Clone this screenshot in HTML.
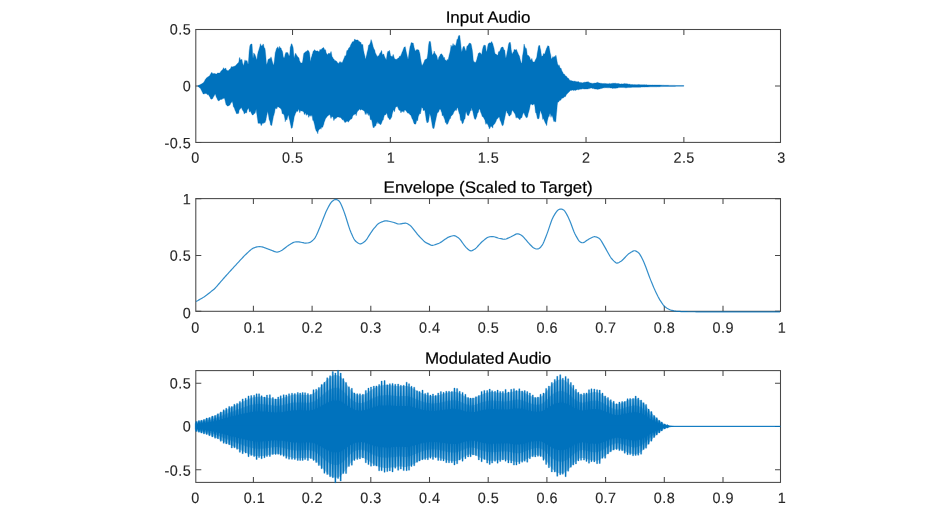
<!DOCTYPE html>
<html><head><meta charset="utf-8"><title>Audio plots</title>
<style>html,body{margin:0;padding:0;background:#fff}svg{display:block}</style></head>
<body><svg width="933" height="525" viewBox="0 0 933 525" font-family="'Liberation Sans', sans-serif" fill="#262626">
<rect width="933" height="525" fill="#fff"/>
<rect x="195.8" y="29.5" width="584.7" height="112.9" fill="none" stroke="#484848" stroke-width="1.05"/>
<path d="M292.53,142.4v-5.5M292.53,29.5v5.5M390.37,142.4v-5.5M390.37,29.5v5.5M488.20,142.4v-5.5M488.20,29.5v5.5M586.03,142.4v-5.5M586.03,29.5v5.5M683.87,142.4v-5.5M683.87,29.5v5.5M195.8,29.50h5.5M780.5,29.50h-5.5M195.8,85.95h5.5M780.5,85.95h-5.5M195.8,142.40h5.5M780.5,142.40h-5.5" stroke="#484848" stroke-width="1.05" fill="none"/>
<g font-size="15.0" letter-spacing="0.5" stroke="#262626" stroke-width="0.12">
<text transform="translate(195.54,162.7) rotate(0.03) scale(0.96,1)" text-anchor="middle">0</text>
<text transform="translate(292.77,162.7) rotate(0.03) scale(0.96,1)" text-anchor="middle">0.5</text>
<text transform="translate(391.11,162.7) rotate(0.03) scale(0.96,1)" text-anchor="middle">1</text>
<text transform="translate(488.44,162.7) rotate(0.03) scale(0.96,1)" text-anchor="middle">1.5</text>
<text transform="translate(586.27,162.7) rotate(0.03) scale(0.96,1)" text-anchor="middle">2</text>
<text transform="translate(684.11,162.7) rotate(0.03) scale(0.96,1)" text-anchor="middle">2.5</text>
<text transform="translate(781.54,162.7) rotate(0.03) scale(0.96,1)" text-anchor="middle">3</text>
<text transform="translate(191.23,34.50) rotate(0.03) scale(0.96,1)" text-anchor="end">0.5</text>
<text transform="translate(191.23,91.30) rotate(0.03) scale(0.96,1)" text-anchor="end">0</text>
<text transform="translate(191.23,148.20) rotate(0.03) scale(0.96,1)" text-anchor="end">-0.5</text>
</g>
<text transform="translate(488.1,22.8) rotate(0.03) scale(1.042,1)" text-anchor="middle" font-size="16.3" fill="#000" stroke="#000" stroke-width="0.2">Input Audio</text>
<rect x="195.8" y="198.6" width="584.7" height="112.70000000000002" fill="none" stroke="#484848" stroke-width="1.05"/>
<path d="M253.40,311.3v-5.5M253.40,198.6v5.5M312.10,311.3v-5.5M312.10,198.6v5.5M370.80,311.3v-5.5M370.80,198.6v5.5M429.50,311.3v-5.5M429.50,198.6v5.5M488.20,311.3v-5.5M488.20,198.6v5.5M546.90,311.3v-5.5M546.90,198.6v5.5M605.60,311.3v-5.5M605.60,198.6v5.5M664.30,311.3v-5.5M664.30,198.6v5.5M723.00,311.3v-5.5M723.00,198.6v5.5M195.8,198.60h5.5M780.5,198.60h-5.5M195.8,255.40h5.5M780.5,255.40h-5.5M195.8,311.30h5.5M780.5,311.30h-5.5" stroke="#484848" stroke-width="1.05" fill="none"/>
<g font-size="15.0" letter-spacing="0.5" stroke="#262626" stroke-width="0.12">
<text transform="translate(195.54,332.8) rotate(0.03) scale(0.96,1)" text-anchor="middle">0</text>
<text transform="translate(254.54,332.8) rotate(0.03) scale(0.96,1)" text-anchor="middle">0.1</text>
<text transform="translate(312.34,332.8) rotate(0.03) scale(0.96,1)" text-anchor="middle">0.2</text>
<text transform="translate(371.04,332.8) rotate(0.03) scale(0.96,1)" text-anchor="middle">0.3</text>
<text transform="translate(429.74,332.8) rotate(0.03) scale(0.96,1)" text-anchor="middle">0.4</text>
<text transform="translate(488.44,332.8) rotate(0.03) scale(0.96,1)" text-anchor="middle">0.5</text>
<text transform="translate(547.14,332.8) rotate(0.03) scale(0.96,1)" text-anchor="middle">0.6</text>
<text transform="translate(605.84,332.8) rotate(0.03) scale(0.96,1)" text-anchor="middle">0.7</text>
<text transform="translate(664.54,332.8) rotate(0.03) scale(0.96,1)" text-anchor="middle">0.8</text>
<text transform="translate(723.24,332.8) rotate(0.03) scale(0.96,1)" text-anchor="middle">0.9</text>
<text transform="translate(782.04,332.8) rotate(0.03) scale(0.96,1)" text-anchor="middle">1</text>
<text transform="translate(191.23,204.30) rotate(0.03) scale(0.96,1)" text-anchor="end">1</text>
<text transform="translate(191.23,260.70) rotate(0.03) scale(0.96,1)" text-anchor="end">0.5</text>
<text transform="translate(191.23,318.30) rotate(0.03) scale(0.96,1)" text-anchor="end">0</text>
</g>
<text transform="translate(488.1,192.8) rotate(0.03) scale(1.042,1)" text-anchor="middle" font-size="16.3" fill="#000" stroke="#000" stroke-width="0.2">Envelope (Scaled to Target)</text>
<rect x="195.8" y="370.6" width="584.7" height="111.79999999999995" fill="none" stroke="#484848" stroke-width="1.05"/>
<path d="M253.40,482.4v-5.5M253.40,370.6v5.5M312.10,482.4v-5.5M312.10,370.6v5.5M370.80,482.4v-5.5M370.80,370.6v5.5M429.50,482.4v-5.5M429.50,370.6v5.5M488.20,482.4v-5.5M488.20,370.6v5.5M546.90,482.4v-5.5M546.90,370.6v5.5M605.60,482.4v-5.5M605.60,370.6v5.5M664.30,482.4v-5.5M664.30,370.6v5.5M723.00,482.4v-5.5M723.00,370.6v5.5M195.8,383.30h5.5M780.5,383.30h-5.5M195.8,426.40h5.5M780.5,426.40h-5.5M195.8,469.80h5.5M780.5,469.80h-5.5" stroke="#484848" stroke-width="1.05" fill="none"/>
<g font-size="15.0" letter-spacing="0.5" stroke="#262626" stroke-width="0.12">
<text transform="translate(195.54,503.0) rotate(0.03) scale(0.96,1)" text-anchor="middle">0</text>
<text transform="translate(254.54,503.0) rotate(0.03) scale(0.96,1)" text-anchor="middle">0.1</text>
<text transform="translate(312.34,503.0) rotate(0.03) scale(0.96,1)" text-anchor="middle">0.2</text>
<text transform="translate(371.04,503.0) rotate(0.03) scale(0.96,1)" text-anchor="middle">0.3</text>
<text transform="translate(429.74,503.0) rotate(0.03) scale(0.96,1)" text-anchor="middle">0.4</text>
<text transform="translate(488.44,503.0) rotate(0.03) scale(0.96,1)" text-anchor="middle">0.5</text>
<text transform="translate(547.14,503.0) rotate(0.03) scale(0.96,1)" text-anchor="middle">0.6</text>
<text transform="translate(605.84,503.0) rotate(0.03) scale(0.96,1)" text-anchor="middle">0.7</text>
<text transform="translate(664.54,503.0) rotate(0.03) scale(0.96,1)" text-anchor="middle">0.8</text>
<text transform="translate(723.24,503.0) rotate(0.03) scale(0.96,1)" text-anchor="middle">0.9</text>
<text transform="translate(782.04,503.0) rotate(0.03) scale(0.96,1)" text-anchor="middle">1</text>
<text transform="translate(191.23,388.60) rotate(0.03) scale(0.96,1)" text-anchor="end">0.5</text>
<text transform="translate(191.23,431.50) rotate(0.03) scale(0.96,1)" text-anchor="end">0</text>
<text transform="translate(191.23,475.70) rotate(0.03) scale(0.96,1)" text-anchor="end">-0.5</text>
</g>
<text transform="translate(488.1,363.8) rotate(0.03) scale(1.042,1)" text-anchor="middle" font-size="16.3" fill="#000" stroke="#000" stroke-width="0.2">Modulated Audio</text>
<polygon points="198.0,85.7 198.2,85.5 198.5,85.4 198.8,85.3 199.0,85.2 199.2,85.0 199.5,84.9 199.8,84.7 200.0,84.5 200.2,84.4 200.5,84.4 200.8,84.3 201.0,84.1 201.2,84.0 201.5,83.9 201.8,83.8 202.0,83.6 202.2,83.5 202.5,83.3 202.8,83.1 203.0,83.0 203.2,82.8 203.5,82.5 203.8,82.3 204.0,81.9 204.2,81.5 204.5,81.0 204.8,80.6 205.0,80.1 205.2,79.6 205.5,79.2 205.8,78.9 206.0,78.5 206.2,78.2 206.5,78.0 206.8,77.8 207.0,77.7 207.2,77.5 207.5,77.1 207.8,76.9 208.0,76.6 208.2,76.6 208.5,76.7 208.8,76.5 209.0,76.2 209.2,76.0 209.5,75.8 209.8,75.5 210.0,75.1 210.2,74.7 210.5,74.1 210.8,73.8 211.0,73.3 211.2,72.9 211.5,72.6 211.8,72.4 212.0,72.6 212.2,72.8 212.5,73.4 212.8,73.6 213.0,73.7 213.2,73.7 213.5,73.6 213.8,73.6 214.0,73.6 214.2,73.6 214.5,73.6 214.8,73.6 215.0,73.5 215.2,73.5 215.5,73.9 215.8,74.0 216.0,74.0 216.2,74.0 216.5,74.0 216.8,73.9 217.0,73.7 217.2,73.3 217.5,72.9 217.8,73.0 218.0,73.1 218.2,73.1 218.5,73.1 218.8,73.1 219.0,73.1 219.2,73.1 219.5,73.0 219.8,73.0 220.0,72.7 220.2,72.4 220.5,71.8 220.8,71.5 221.0,71.2 221.2,70.8 221.5,70.7 221.8,70.4 222.0,70.0 222.2,69.8 222.5,69.8 222.8,69.6 223.0,69.1 223.2,68.6 223.5,67.7 223.8,68.1 224.0,68.5 224.2,69.0 224.5,69.1 224.8,69.1 225.0,68.7 225.2,68.3 225.5,67.9 225.8,68.2 226.0,68.9 226.2,69.6 226.5,70.1 226.8,70.2 227.0,70.3 227.2,70.3 227.5,70.8 227.8,70.8 228.0,70.8 228.2,70.7 228.5,70.4 228.8,70.1 229.0,69.8 229.2,69.6 229.5,69.5 229.8,69.3 230.0,69.1 230.2,68.8 230.5,68.6 230.8,68.1 231.0,67.4 231.2,66.7 231.5,66.6 231.8,67.0 232.0,67.2 232.2,67.1 232.5,66.8 232.8,66.7 233.0,66.6 233.2,66.6 233.5,66.6 233.8,66.5 234.0,66.4 234.2,66.4 234.5,66.1 234.8,66.1 235.0,66.0 235.2,65.9 235.5,65.6 235.8,65.5 236.0,65.3 236.2,65.0 236.5,64.5 236.8,64.2 237.0,63.9 237.2,63.7 237.5,63.6 237.8,63.3 238.0,63.0 238.2,62.7 238.5,62.4 238.8,62.0 239.0,60.8 239.2,59.3 239.5,57.7 239.8,57.5 240.0,58.3 240.2,59.1 240.5,59.9 240.8,60.0 241.0,60.0 241.2,60.0 241.5,59.5 241.8,59.2 242.0,59.6 242.2,61.0 242.5,62.7 242.8,63.6 243.0,64.4 243.2,65.2 243.5,65.2 243.8,64.5 244.0,63.8 244.2,62.9 244.5,61.4 244.8,60.4 245.0,59.8 245.2,60.3 245.5,60.8 245.8,61.2 246.0,61.3 246.2,61.1 246.5,60.7 246.8,60.4 247.0,60.4 247.2,61.3 247.5,62.4 247.8,63.4 248.0,64.0 248.2,64.2 248.5,60.6 248.8,56.9 249.0,53.3 249.2,50.8 249.5,48.7 249.8,46.2 250.0,45.4 250.2,45.2 250.5,44.5 250.8,44.3 251.0,44.0 251.2,44.0 251.5,44.0 251.8,44.0 252.0,44.0 252.2,46.6 252.5,51.5 252.8,55.9 253.0,58.6 253.2,57.3 253.5,55.4 253.8,52.9 254.0,53.1 254.2,53.8 254.5,54.2 254.8,54.2 255.0,54.4 255.2,55.2 255.5,56.0 255.8,56.8 256.0,57.5 256.2,58.2 256.5,58.9 256.8,59.6 257.0,59.2 257.2,57.1 257.5,54.7 257.8,53.6 258.0,52.6 258.2,51.6 258.5,51.1 258.8,50.1 259.0,49.3 259.2,48.6 259.5,47.5 259.8,46.7 260.0,45.5 260.2,44.3 260.5,43.7 260.8,44.9 261.0,46.0 261.2,46.0 261.5,45.8 261.8,45.7 262.0,45.6 262.2,45.5 262.5,45.2 262.8,44.7 263.0,44.3 263.2,43.9 263.5,44.6 263.8,45.8 264.0,47.0 264.2,47.9 264.5,47.8 264.8,48.3 265.0,49.0 265.2,50.1 265.5,52.9 265.8,55.8 266.0,58.5 266.2,61.1 266.5,64.4 266.8,64.1 267.0,63.7 267.2,63.1 267.5,62.3 267.8,61.0 268.0,59.4 268.2,59.3 268.5,59.3 268.8,59.2 269.0,58.7 269.2,58.7 269.5,58.7 269.8,58.7 270.0,58.7 270.2,58.6 270.5,58.1 270.8,57.5 271.0,56.8 271.2,57.5 271.5,58.1 271.8,59.2 272.0,60.2 272.2,61.1 272.5,62.1 272.8,63.0 273.0,63.9 273.2,65.0 273.5,64.7 273.8,64.0 274.0,63.2 274.2,61.9 274.5,59.3 274.8,57.1 275.0,55.0 275.2,52.7 275.5,51.9 275.8,51.0 276.0,50.2 276.2,49.4 276.5,48.5 276.8,48.3 277.0,48.3 277.2,47.9 277.5,47.3 277.8,46.8 278.0,46.9 278.2,47.6 278.5,48.3 278.8,48.9 279.0,48.8 279.2,47.9 279.5,46.5 279.8,46.6 280.0,47.2 280.2,47.9 280.5,47.9 280.8,47.9 281.0,47.9 281.2,48.4 281.5,49.7 281.8,50.1 282.0,50.5 282.2,50.9 282.5,51.5 282.8,53.1 283.0,54.7 283.2,56.2 283.5,57.2 283.8,57.6 284.0,58.0 284.2,58.0 284.5,56.9 284.8,56.2 285.0,55.1 285.2,53.9 285.5,53.5 285.8,52.6 286.0,52.6 286.2,52.6 286.5,52.6 286.8,52.6 287.0,52.7 287.2,52.8 287.5,52.6 287.8,52.5 288.0,52.9 288.2,53.8 288.5,54.5 288.8,55.2 289.0,55.7 289.2,55.7 289.5,55.7 289.8,53.8 290.0,50.7 290.2,47.6 290.5,46.5 290.8,45.9 291.0,45.0 291.2,44.3 291.5,43.8 291.8,43.8 292.0,44.3 292.2,44.8 292.5,45.8 292.8,46.6 293.0,47.1 293.2,48.2 293.5,51.6 293.8,54.6 294.0,57.8 294.2,57.7 294.5,56.5 294.8,55.6 295.0,54.8 295.2,54.0 295.5,53.4 295.8,53.2 296.0,53.8 296.2,54.3 296.5,54.9 296.8,55.2 297.0,55.7 297.2,56.2 297.5,56.3 297.8,56.8 298.0,57.3 298.2,57.6 298.5,57.6 298.8,57.6 299.0,58.1 299.2,59.1 299.5,60.7 299.8,61.1 300.0,61.6 300.2,62.0 300.5,62.5 300.8,62.9 301.0,63.2 301.2,63.1 301.5,63.0 301.8,62.9 302.0,62.9 302.2,62.8 302.5,61.8 302.8,60.3 303.0,58.8 303.2,57.2 303.5,55.1 303.8,53.6 304.0,53.1 304.2,52.8 304.5,52.9 304.8,52.8 305.0,52.5 305.2,52.0 305.5,52.0 305.8,51.6 306.0,51.6 306.2,51.5 306.5,51.3 306.8,51.3 307.0,51.1 307.2,50.9 307.5,50.2 307.8,50.3 308.0,50.4 308.2,50.6 308.5,50.7 308.8,51.0 309.0,51.6 309.2,52.2 309.5,52.7 309.8,55.0 310.0,57.3 310.2,59.7 310.5,61.6 310.8,60.0 311.0,58.5 311.2,57.4 311.5,56.8 311.8,56.3 312.0,55.3 312.2,54.1 312.5,53.9 312.8,52.7 313.0,51.5 313.2,51.2 313.5,51.0 313.8,51.0 314.0,50.6 314.2,50.3 314.5,49.7 314.8,49.8 315.0,50.2 315.2,50.5 315.5,50.8 315.8,50.8 316.0,50.9 316.2,50.9 316.5,51.1 316.8,51.1 317.0,51.1 317.2,51.0 317.5,50.8 317.8,50.9 318.0,51.2 318.2,51.4 318.5,51.6 318.8,51.7 319.0,51.6 319.2,51.4 319.5,50.8 319.8,50.0 320.0,49.2 320.2,49.4 320.5,49.7 320.8,50.0 321.0,49.9 321.2,49.6 321.5,49.1 321.8,48.8 322.0,48.6 322.2,48.3 322.5,48.2 322.8,48.0 323.0,47.8 323.2,47.7 323.5,47.6 323.8,47.8 324.0,48.1 324.2,48.8 324.5,49.7 324.8,49.7 325.0,49.8 325.2,49.7 325.5,49.8 325.8,50.8 326.0,51.9 326.2,53.0 326.5,53.2 326.8,53.8 327.0,54.3 327.2,54.6 327.5,54.5 327.8,54.4 328.0,54.2 328.2,53.8 328.5,53.4 328.8,53.0 329.0,53.0 329.2,53.4 329.5,53.4 329.8,53.5 330.0,53.5 330.2,53.5 330.5,52.8 330.8,52.0 331.0,51.5 331.2,51.8 331.5,53.6 331.8,55.0 332.0,56.4 332.2,56.9 332.5,56.9 332.8,57.6 333.0,58.2 333.2,58.5 333.5,59.0 333.8,58.9 334.0,59.1 334.2,59.6 334.5,60.2 334.8,60.5 335.0,60.6 335.2,60.6 335.5,60.7 335.8,60.7 336.0,61.0 336.2,61.2 336.5,61.1 336.8,61.5 337.0,62.0 337.2,62.4 337.5,62.5 337.8,62.9 338.0,63.3 338.2,63.4 338.5,63.3 338.8,63.2 339.0,63.1 339.2,62.6 339.5,62.2 339.8,61.8 340.0,61.4 340.2,61.8 340.5,62.0 340.8,62.4 341.0,62.4 341.2,62.4 341.5,62.4 341.8,62.4 342.0,62.5 342.2,62.4 342.5,62.1 342.8,61.5 343.0,60.8 343.2,60.2 343.5,59.5 343.8,58.9 344.0,58.2 344.2,57.9 344.5,56.9 344.8,56.2 345.0,55.6 345.2,55.7 345.5,56.0 345.8,56.1 346.0,55.5 346.2,54.4 346.5,52.3 346.8,50.9 347.0,50.2 347.2,50.2 347.5,50.5 347.8,50.5 348.0,50.0 348.2,49.3 348.5,48.6 348.8,48.1 349.0,47.7 349.2,47.4 349.5,47.4 349.8,47.2 350.0,46.8 350.2,46.4 350.5,45.2 350.8,44.8 351.0,44.3 351.2,43.8 351.5,43.5 351.8,43.2 352.0,42.6 352.2,41.9 352.5,41.8 352.8,41.7 353.0,41.6 353.2,41.5 353.5,41.5 353.8,41.4 354.0,40.9 354.2,40.4 354.5,39.2 354.8,39.1 355.0,39.3 355.2,39.6 355.5,39.9 355.8,39.9 356.0,39.9 356.2,40.1 356.5,40.1 356.8,40.1 357.0,40.1 357.2,40.0 357.5,39.9 357.8,39.9 358.0,40.1 358.2,40.3 358.5,41.2 358.8,41.2 359.0,41.2 359.2,41.2 359.5,41.5 359.8,41.9 360.0,42.2 360.2,42.3 360.5,42.0 360.8,42.3 361.0,43.0 361.2,43.8 361.5,44.0 361.8,44.5 362.0,45.0 362.2,45.1 362.5,44.5 362.8,44.3 363.0,46.1 363.2,48.1 363.5,50.2 363.8,51.3 364.0,52.4 364.2,53.4 364.5,54.4 364.8,55.5 365.0,56.8 365.2,58.0 365.5,58.4 365.8,59.0 366.0,57.6 366.2,56.3 366.5,55.6 366.8,54.3 367.0,52.9 367.2,52.0 367.5,51.0 367.8,50.1 368.0,49.0 368.2,47.6 368.5,45.5 368.8,45.1 369.0,45.2 369.2,45.0 369.5,44.5 369.8,44.1 370.0,43.6 370.2,43.1 370.5,42.2 370.8,40.9 371.0,39.6 371.2,39.8 371.5,40.7 371.8,41.5 372.0,41.9 372.2,43.0 372.5,44.1 372.8,45.1 373.0,46.1 373.2,47.1 373.5,47.6 373.8,48.5 374.0,48.8 374.2,49.1 374.5,49.9 374.8,50.1 375.0,51.3 375.2,52.4 375.5,53.1 375.8,53.7 376.0,54.1 376.2,54.5 376.5,55.2 376.8,55.6 377.0,56.0 377.2,56.4 377.5,56.4 377.8,56.4 378.0,55.9 378.2,55.6 378.5,56.0 378.8,55.9 379.0,55.5 379.2,55.0 379.5,54.0 379.8,53.5 380.0,52.9 380.2,52.8 380.5,52.8 380.8,52.6 381.0,51.6 381.2,50.7 381.5,50.5 381.8,51.3 382.0,52.6 382.2,54.0 382.5,54.5 382.8,54.8 383.0,54.5 383.2,54.2 383.5,54.0 383.8,54.0 384.0,54.8 384.2,55.5 384.5,56.2 384.8,57.0 385.0,57.5 385.2,58.0 385.5,58.5 385.8,59.0 386.0,59.5 386.2,60.0 386.5,58.3 386.8,56.6 387.0,54.9 387.2,53.2 387.5,52.4 387.8,51.7 388.0,51.1 388.2,51.6 388.5,51.5 388.8,51.2 389.0,50.8 389.2,50.5 389.5,50.5 389.8,51.5 390.0,52.5 390.2,53.4 390.5,55.2 390.8,55.9 391.0,56.3 391.2,56.3 391.5,56.3 391.8,56.4 392.0,56.6 392.2,56.8 392.5,56.3 392.8,55.6 393.0,54.8 393.2,54.4 393.5,55.1 393.8,56.2 394.0,57.2 394.2,57.6 394.5,58.4 394.8,58.7 395.0,59.1 395.2,59.3 395.5,59.3 395.8,59.2 396.0,59.0 396.2,58.9 396.5,59.5 396.8,59.5 397.0,59.3 397.2,59.2 397.5,58.5 397.8,58.4 398.0,58.2 398.2,58.0 398.5,57.9 398.8,57.7 399.0,57.5 399.2,57.0 399.5,56.4 399.8,55.9 400.0,56.1 400.2,56.4 400.5,55.9 400.8,55.6 401.0,55.0 401.2,54.4 401.5,53.9 401.8,53.1 402.0,52.4 402.2,51.7 402.5,51.4 402.8,50.8 403.0,50.1 403.2,49.4 403.5,48.8 403.8,48.1 404.0,47.4 404.2,47.1 404.5,47.1 404.8,46.9 405.0,46.7 405.2,46.7 405.5,48.1 405.8,49.4 406.0,50.5 406.2,51.6 406.5,52.8 406.8,53.9 407.0,55.0 407.2,56.2 407.5,57.1 407.8,58.3 408.0,59.5 408.2,58.6 408.5,56.4 408.8,54.7 409.0,53.0 409.2,51.3 409.5,49.8 409.8,48.1 410.0,46.8 410.2,46.1 410.5,45.4 410.8,44.2 411.0,43.2 411.2,42.8 411.5,42.4 411.8,42.7 412.0,43.0 412.2,43.0 412.5,43.0 412.8,43.0 413.0,43.0 413.2,43.0 413.5,44.4 413.8,45.6 414.0,46.8 414.2,47.7 414.5,48.6 414.8,49.5 415.0,50.4 415.2,51.3 415.5,50.7 415.8,50.5 416.0,50.4 416.2,50.1 416.5,49.8 416.8,49.5 417.0,49.5 417.2,49.5 417.5,49.7 417.8,49.7 418.0,49.7 418.2,49.7 418.5,50.0 418.8,50.0 419.0,50.4 419.2,51.6 419.5,52.2 419.8,53.2 420.0,54.5 420.2,56.1 420.5,58.2 420.8,59.6 421.0,60.9 421.2,62.1 421.5,63.4 421.8,64.6 422.0,65.8 422.2,65.3 422.5,65.0 422.8,64.6 423.0,64.2 423.2,63.7 423.5,62.9 423.8,62.4 424.0,61.9 424.2,61.5 424.5,60.6 424.8,59.9 425.0,59.6 425.2,59.4 425.5,59.4 425.8,59.4 426.0,59.3 426.2,59.1 426.5,58.9 426.8,58.7 427.0,58.6 427.2,57.4 427.5,55.7 427.8,53.7 428.0,51.6 428.2,48.9 428.5,45.6 428.8,43.8 429.0,42.7 429.2,41.4 429.5,41.5 429.8,41.5 430.0,41.4 430.2,41.3 430.5,42.1 430.8,43.6 431.0,45.3 431.2,47.1 431.5,49.5 431.8,51.3 432.0,52.9 432.2,54.5 432.5,54.9 432.8,54.5 433.0,54.1 433.2,53.7 433.5,53.7 433.8,52.9 434.0,51.9 434.2,51.0 434.5,51.9 434.8,52.9 435.0,53.4 435.2,53.7 435.5,53.7 435.8,54.2 436.0,54.7 436.2,55.1 436.5,55.3 436.8,55.8 437.0,56.5 437.2,57.4 437.5,58.9 437.8,59.7 438.0,60.2 438.2,59.4 438.5,58.4 438.8,57.2 439.0,56.9 439.2,56.8 439.5,56.1 439.8,55.9 440.0,55.3 440.2,54.6 440.5,54.4 440.8,54.0 441.0,54.0 441.2,53.9 441.5,53.8 441.8,53.9 442.0,54.3 442.2,54.9 442.5,55.0 442.8,55.5 443.0,56.0 443.2,56.5 443.5,57.3 443.8,57.9 444.0,57.7 444.2,57.2 444.5,57.8 444.8,59.0 445.0,60.0 445.2,60.1 445.5,60.1 445.8,60.3 446.0,60.4 446.2,60.6 446.5,61.0 446.8,60.6 447.0,59.9 447.2,59.2 447.5,59.7 447.8,60.3 448.0,59.9 448.2,59.6 448.5,58.1 448.8,57.0 449.0,55.9 449.2,54.8 449.5,53.9 449.8,52.8 450.0,51.9 450.2,50.9 450.5,49.3 450.8,47.2 451.0,45.1 451.2,45.7 451.5,46.5 451.8,46.8 452.0,46.6 452.2,46.3 452.5,45.7 452.8,44.6 453.0,43.5 453.2,44.0 453.5,44.7 453.8,45.7 454.0,45.7 454.2,45.5 454.5,45.0 454.8,44.7 455.0,44.8 455.2,45.6 455.5,45.9 455.8,45.3 456.0,44.4 456.2,43.2 456.5,42.3 456.8,40.5 457.0,39.3 457.2,39.4 457.5,39.2 457.8,38.9 458.0,38.0 458.2,37.1 458.5,35.9 458.8,35.6 459.0,35.6 459.2,35.6 459.5,35.6 459.8,35.6 460.0,37.5 460.2,39.6 460.5,41.8 460.8,43.9 461.0,46.3 461.2,48.6 461.5,50.6 461.8,52.1 462.0,51.3 462.2,50.5 462.5,48.9 462.8,48.1 463.0,47.3 463.2,46.7 463.5,46.6 463.8,46.5 464.0,46.4 464.2,46.2 464.5,47.2 464.8,47.9 465.0,48.5 465.2,49.2 465.5,50.2 465.8,50.7 466.0,51.1 466.2,50.5 466.5,48.6 466.8,47.1 467.0,45.9 467.2,46.0 467.5,46.2 467.8,45.6 468.0,45.3 468.2,45.0 468.5,44.5 468.8,44.1 469.0,43.6 469.2,43.4 469.5,42.9 469.8,43.1 470.0,43.3 470.2,43.6 470.5,43.6 470.8,43.6 471.0,43.6 471.2,44.4 471.5,45.7 471.8,47.4 472.0,48.5 472.2,49.6 472.5,51.6 472.8,54.0 473.0,56.7 473.2,59.4 473.5,60.9 473.8,61.4 474.0,61.5 474.2,61.7 474.5,62.2 474.8,62.3 475.0,62.3 475.2,62.3 475.5,62.3 475.8,62.4 476.0,62.1 476.2,61.1 476.5,60.2 476.8,59.4 477.0,58.5 477.2,57.6 477.5,56.6 477.8,55.9 478.0,54.7 478.2,53.5 478.5,53.3 478.8,53.2 479.0,53.0 479.2,52.8 479.5,52.8 479.8,52.7 480.0,52.7 480.2,52.7 480.5,53.0 480.8,53.5 481.0,53.8 481.2,54.0 481.5,54.4 481.8,53.9 482.0,52.4 482.2,51.1 482.5,49.2 482.8,48.3 483.0,47.4 483.2,46.5 483.5,46.2 483.8,45.2 484.0,45.2 484.2,45.2 484.5,45.2 484.8,45.2 485.0,45.1 485.2,45.4 485.5,45.6 485.8,47.5 486.0,49.4 486.2,50.9 486.5,51.5 486.8,51.2 487.0,50.0 487.2,48.9 487.5,47.2 487.8,46.1 488.0,44.9 488.2,43.8 488.5,43.7 488.8,43.4 489.0,43.0 489.2,43.0 489.5,42.7 489.8,42.9 490.0,43.0 490.2,43.0 490.5,43.0 490.8,43.1 491.0,42.6 491.2,42.0 491.5,41.7 491.8,41.6 492.0,42.2 492.2,42.8 492.5,43.4 492.8,43.5 493.0,44.4 493.2,45.5 493.5,46.5 493.8,47.4 494.0,48.2 494.2,49.2 494.5,51.2 494.8,52.4 495.0,53.4 495.2,53.9 495.5,53.9 495.8,54.0 496.0,54.1 496.2,54.3 496.5,54.6 496.8,54.8 497.0,54.9 497.2,55.1 497.5,55.3 497.8,54.9 498.0,54.3 498.2,53.3 498.5,51.7 498.8,51.7 499.0,51.6 499.2,51.5 499.5,51.5 499.8,51.1 500.0,50.5 500.2,50.0 500.5,49.2 500.8,48.4 501.0,47.6 501.2,47.5 501.5,47.6 501.8,47.5 502.0,47.1 502.2,47.1 502.5,47.1 502.8,47.1 503.0,47.1 503.2,47.5 503.5,48.3 503.8,49.2 504.0,49.9 504.2,49.9 504.5,50.0 504.8,50.2 505.0,52.2 505.2,54.1 505.5,56.5 505.8,57.7 506.0,58.1 506.2,56.8 506.5,55.5 506.8,54.2 507.0,52.9 507.2,51.5 507.5,50.4 507.8,49.0 508.0,47.6 508.2,46.3 508.5,44.6 508.8,43.7 509.0,42.7 509.2,42.7 509.5,42.7 509.8,42.7 510.0,42.0 510.2,42.5 510.5,43.5 510.8,45.0 511.0,47.2 511.2,49.5 511.5,51.0 511.8,52.4 512.0,53.7 512.2,54.0 512.5,53.4 512.8,53.0 513.0,52.5 513.2,52.1 513.5,51.9 513.8,51.2 514.0,50.0 514.2,49.3 514.5,49.6 514.8,50.0 515.0,50.0 515.2,50.0 515.5,49.9 515.8,49.6 516.0,49.4 516.2,49.3 516.5,49.7 516.8,50.3 517.0,50.9 517.2,51.6 517.5,52.1 517.8,52.7 518.0,53.2 518.2,53.7 518.5,54.5 518.8,54.9 519.0,55.2 519.2,55.8 519.5,56.2 519.8,57.4 520.0,58.4 520.2,59.3 520.5,60.6 520.8,61.3 521.0,62.0 521.2,62.7 521.5,62.9 521.8,63.3 522.0,62.1 522.2,59.0 522.5,55.7 522.8,54.5 523.0,53.3 523.2,52.1 523.5,50.1 523.8,46.5 524.0,44.1 524.2,44.2 524.5,45.6 524.8,46.6 525.0,46.6 525.2,47.5 525.5,47.9 525.8,48.4 526.0,48.4 526.2,48.3 526.5,49.1 526.8,50.9 527.0,52.8 527.2,54.5 527.5,55.0 527.8,55.3 528.0,55.6 528.2,55.6 528.5,55.6 528.8,56.0 529.0,56.2 529.2,56.3 529.5,56.9 529.8,57.3 530.0,58.1 530.2,58.8 530.5,59.9 530.8,59.9 531.0,59.9 531.2,59.7 531.5,58.9 531.8,58.4 532.0,58.7 532.2,59.7 532.5,61.1 532.8,61.5 533.0,61.8 533.2,62.0 533.5,62.0 533.8,61.9 534.0,62.0 534.2,62.0 534.5,62.1 534.8,61.3 535.0,60.7 535.2,60.3 535.5,59.6 535.8,59.2 536.0,58.8 536.2,58.3 536.5,58.1 536.8,56.7 537.0,55.2 537.2,53.6 537.5,51.9 537.8,50.6 538.0,49.2 538.2,47.6 538.5,46.6 538.8,45.6 539.0,45.6 539.2,45.6 539.5,45.6 539.8,45.5 540.0,46.8 540.2,48.2 540.5,49.0 540.8,50.6 541.0,52.2 541.2,53.8 541.5,55.5 541.8,56.6 542.0,56.3 542.2,56.0 542.5,56.0 542.8,55.9 543.0,55.2 543.2,54.4 543.5,53.5 543.8,53.7 544.0,53.9 544.2,53.9 544.5,53.9 544.8,53.5 545.0,53.0 545.2,52.2 545.5,51.3 545.8,50.4 546.0,49.8 546.2,49.5 546.5,48.2 546.8,48.0 547.0,47.5 547.2,46.9 547.5,46.2 547.8,45.7 548.0,45.8 548.2,46.0 548.5,46.0 548.8,46.0 549.0,46.3 549.2,47.6 549.5,49.0 549.8,50.4 550.0,51.8 550.2,53.1 550.5,54.0 550.8,54.9 551.0,56.8 551.2,58.4 551.5,58.7 551.8,58.5 552.0,58.3 552.2,58.1 552.5,57.5 552.8,56.8 553.0,56.5 553.2,56.9 553.5,57.2 553.8,57.2 554.0,57.2 554.2,57.1 554.5,56.5 554.8,56.5 555.0,56.5 555.2,56.5 555.5,55.9 555.8,55.3 556.0,55.3 556.2,56.2 556.5,58.1 556.8,59.6 557.0,61.0 557.2,61.9 557.5,63.4 557.8,64.2 558.0,65.0 558.2,65.7 558.5,65.4 558.8,65.2 559.0,64.8 559.2,65.3 559.5,66.1 559.8,67.1 560.0,67.7 560.2,67.9 560.5,67.9 560.8,68.2 561.0,68.4 561.2,68.6 561.5,69.8 561.8,70.5 562.0,71.1 562.2,71.6 562.5,71.8 562.8,72.3 563.0,72.8 563.2,73.4 563.5,73.9 563.8,73.9 564.0,73.9 564.2,73.9 564.5,74.3 564.8,74.9 565.0,75.5 565.2,75.8 565.5,75.9 565.8,75.8 566.0,75.8 566.2,75.9 566.5,76.4 566.8,76.8 567.0,77.3 567.2,77.5 567.5,77.8 567.8,78.0 568.0,78.2 568.2,78.3 568.5,78.3 568.8,78.7 569.0,79.2 569.2,79.6 569.5,80.1 569.8,80.2 570.0,80.3 570.2,80.4 570.5,80.4 570.8,80.4 571.0,80.5 571.2,80.5 571.5,80.7 571.8,80.8 572.0,80.8 572.2,80.9 572.5,81.0 572.8,81.0 573.0,81.1 573.2,81.2 573.5,81.2 573.8,81.3 574.0,81.3 574.2,81.3 574.5,81.2 574.8,81.1 575.0,81.1 575.2,81.2 575.5,81.4 575.8,81.4 576.0,81.5 576.2,81.5 576.5,81.7 576.8,81.7 577.0,81.7 577.2,81.7 577.5,81.7 577.8,81.7 578.0,81.7 578.2,81.7 578.5,81.6 578.8,81.8 579.0,81.9 579.2,82.1 579.5,82.4 579.8,82.4 580.0,82.4 580.2,82.4 580.5,82.4 580.8,82.4 581.0,82.3 581.2,82.4 581.5,82.6 581.8,82.8 582.0,82.9 582.2,82.9 582.5,82.8 582.8,82.7 583.0,82.6 583.2,82.6 583.5,82.6 583.8,82.6 584.0,82.6 584.2,82.5 584.5,82.2 584.8,82.0 585.0,81.9 585.2,82.1 585.5,82.2 585.8,82.3 586.0,82.2 586.2,82.1 586.5,81.9 586.8,81.9 587.0,81.9 587.2,81.9 587.5,81.9 587.8,81.8 588.0,81.6 588.2,81.7 588.5,82.1 588.8,82.3 589.0,82.4 589.2,82.5 589.5,82.6 589.8,82.7 590.0,82.8 590.2,82.9 590.5,82.9 590.8,83.0 591.0,83.1 591.2,83.1 591.5,83.2 591.8,83.3 592.0,83.4 592.2,83.4 592.5,83.4 592.8,83.3 593.0,83.3 593.2,83.3 593.5,83.3 593.8,83.3 594.0,83.2 594.2,83.2 594.5,83.1 594.8,83.1 595.0,83.1 595.2,83.1 595.5,83.1 595.8,83.0 596.0,82.9 596.2,82.8 596.5,82.8 596.8,82.7 597.0,82.7 597.2,82.5 597.5,82.4 597.8,82.3 598.0,82.4 598.2,82.6 598.5,82.8 598.8,82.9 599.0,82.9 599.2,83.0 599.5,83.1 599.8,83.1 600.0,83.2 600.2,83.2 600.5,83.3 600.8,83.2 601.0,83.2 601.2,83.3 601.5,83.3 601.8,83.4 602.0,83.4 602.2,83.5 602.5,83.5 602.8,83.5 603.0,83.5 603.2,83.5 603.5,83.5 603.8,83.5 604.0,83.5 604.2,83.4 604.5,83.4 604.8,83.5 605.0,83.5 605.2,83.6 605.5,83.6 605.8,83.6 606.0,83.6 606.2,83.6 606.5,83.7 606.8,83.7 607.0,83.7 607.2,83.7 607.5,83.8 607.8,83.8 608.0,83.8 608.2,83.8 608.5,83.8 608.8,83.8 609.0,83.7 609.2,83.6 609.5,83.4 609.8,83.5 610.0,83.6 610.2,83.7 610.5,83.7 610.8,83.7 611.0,83.6 611.2,83.6 611.5,83.6 611.8,83.5 612.0,83.5 612.2,83.4 612.5,83.3 612.8,83.3 613.0,83.3 613.2,83.3 613.5,83.3 613.8,83.3 614.0,83.3 614.2,83.3 614.5,83.3 614.8,83.3 615.0,83.3 615.2,83.3 615.5,83.2 615.8,83.3 616.0,83.4 616.2,83.5 616.5,83.5 616.8,83.5 617.0,83.5 617.2,83.5 617.5,83.6 617.8,83.6 618.0,83.6 618.2,83.6 618.5,83.6 618.8,83.6 619.0,83.7 619.2,83.7 619.5,83.8 619.8,83.9 620.0,83.9 620.2,84.0 620.5,84.0 620.8,84.0 621.0,83.9 621.2,83.9 621.5,83.8 621.8,83.8 622.0,83.9 622.2,83.9 622.5,83.9 622.8,83.9 623.0,83.9 623.2,83.9 623.5,83.8 623.8,83.8 624.0,83.8 624.2,83.7 624.5,83.5 624.8,83.5 625.0,83.7 625.2,83.7 625.5,83.7 625.8,83.8 626.0,83.8 626.2,83.8 626.5,83.8 626.8,83.8 627.0,83.8 627.2,83.7 627.5,83.9 627.8,84.0 628.0,84.1 628.2,84.1 628.5,84.2 628.8,84.2 629.0,84.2 629.2,84.2 629.5,84.1 629.8,84.1 630.0,84.3 630.2,84.4 630.5,84.4 630.8,84.4 631.0,84.5 631.2,84.5 631.5,84.5 631.8,84.6 632.0,84.6 632.2,84.5 632.5,84.5 632.8,84.5 633.0,84.6 633.2,84.6 633.5,84.7 633.8,84.7 634.0,84.6 634.2,84.5 634.5,84.6 634.8,84.7 635.0,84.7 635.2,84.7 635.5,84.7 635.8,84.6 636.0,84.6 636.2,84.7 636.5,84.7 636.8,84.7 637.0,84.7 637.2,84.7 637.5,84.7 637.8,84.6 638.0,84.6 638.2,84.5 638.5,84.6 638.8,84.6 639.0,84.6 639.2,84.6 639.5,84.6 639.8,84.7 640.0,84.7 640.2,84.7 640.5,84.8 640.8,84.7 641.0,84.7 641.2,84.7 641.5,84.8 641.8,84.8 642.0,84.8 642.2,84.8 642.5,84.8 642.8,84.8 643.0,84.8 643.2,84.8 643.5,84.8 643.8,84.8 644.0,84.8 644.2,84.7 644.5,84.7 644.8,84.7 645.0,84.7 645.2,84.7 645.5,84.8 645.8,84.9 646.0,84.8 646.2,84.8 646.5,84.8 646.8,84.8 647.0,84.8 647.2,84.9 647.5,84.9 647.8,84.9 648.0,84.9 648.2,84.9 648.5,84.9 648.8,84.9 649.0,84.8 649.2,84.9 649.5,84.9 649.8,85.0 650.0,85.0 650.2,85.0 650.5,85.0 650.8,85.1 651.0,85.1 651.2,85.1 651.5,85.1 651.8,85.1 652.0,85.1 652.2,85.0 652.5,85.0 652.8,85.0 653.0,85.0 653.2,85.1 653.5,85.1 653.8,85.1 654.0,85.1 654.2,85.1 654.5,85.0 654.8,85.0 655.0,85.0 655.2,85.0 655.5,85.1 655.8,85.1 656.0,85.1 656.2,85.1 656.5,85.1 656.8,85.1 657.0,85.1 657.2,85.1 657.5,85.1 657.8,85.1 658.0,85.1 658.2,85.1 658.5,85.1 658.8,85.1 659.0,85.1 659.2,85.1 659.5,85.1 659.8,85.0 660.0,85.1 660.2,85.1 660.5,85.2 660.8,85.1 661.0,85.1 661.2,85.1 661.5,85.2 661.8,85.2 662.0,85.2 662.2,85.2 662.5,85.2 662.8,85.2 663.0,85.2 663.2,85.2 663.5,85.2 663.8,85.2 664.0,85.2 664.2,85.2 664.5,85.3 664.8,85.3 665.0,85.3 665.2,85.3 665.5,85.3 665.8,85.3 666.0,85.3 666.2,85.3 666.5,85.3 666.8,85.3 667.0,85.3 667.2,85.3 667.5,85.3 667.8,85.3 668.0,85.3 668.2,85.3 668.5,85.3 668.8,85.4 669.0,85.4 669.2,85.4 669.5,85.4 669.8,85.4 670.0,85.4 670.2,85.4 670.5,85.4 670.8,85.4 671.0,85.4 671.2,85.4 671.5,85.4 671.8,85.4 672.0,85.4 672.2,85.4 672.5,85.4 672.8,85.4 673.0,85.4 673.2,85.4 673.5,85.4 673.8,85.4 674.0,85.4 674.2,85.4 674.5,85.4 674.8,85.4 675.0,85.4 675.2,85.4 675.5,85.5 675.8,85.5 676.0,85.5 676.2,85.5 676.5,85.5 676.8,85.5 677.0,85.5 677.2,85.5 677.5,85.5 677.8,85.5 678.0,85.5 678.2,85.5 678.5,85.5 678.8,85.5 679.0,85.5 679.2,85.5 679.5,85.5 679.8,85.5 680.0,85.5 680.2,85.5 680.5,85.5 680.8,85.5 681.0,85.5 681.2,85.5 681.5,85.5 681.8,85.5 682.0,85.6 682.2,85.6 682.5,85.6 682.8,85.6 683.0,85.6 683.2,85.6 683.5,85.6 683.8,85.6 683.9,85.9 683.8,86.2 683.5,86.2 683.2,86.2 683.0,86.2 682.8,86.2 682.5,86.2 682.2,86.2 682.0,86.2 681.8,86.2 681.5,86.3 681.2,86.3 681.0,86.3 680.8,86.3 680.5,86.3 680.2,86.3 680.0,86.3 679.8,86.3 679.5,86.3 679.2,86.3 679.0,86.3 678.8,86.3 678.5,86.3 678.2,86.3 678.0,86.3 677.8,86.3 677.5,86.3 677.2,86.3 677.0,86.3 676.8,86.3 676.5,86.3 676.2,86.3 676.0,86.3 675.8,86.3 675.5,86.4 675.2,86.4 675.0,86.4 674.8,86.4 674.5,86.4 674.2,86.4 674.0,86.4 673.8,86.4 673.5,86.4 673.2,86.4 673.0,86.4 672.8,86.4 672.5,86.4 672.2,86.4 672.0,86.4 671.8,86.4 671.5,86.4 671.2,86.4 671.0,86.4 670.8,86.4 670.5,86.4 670.2,86.4 670.0,86.4 669.8,86.4 669.5,86.4 669.2,86.4 669.0,86.4 668.8,86.4 668.5,86.4 668.2,86.5 668.0,86.5 667.8,86.5 667.5,86.5 667.2,86.5 667.0,86.5 666.8,86.5 666.5,86.5 666.2,86.5 666.0,86.5 665.8,86.5 665.5,86.5 665.2,86.5 665.0,86.5 664.8,86.5 664.5,86.5 664.2,86.5 664.0,86.5 663.8,86.5 663.5,86.5 663.2,86.6 663.0,86.6 662.8,86.6 662.5,86.6 662.2,86.6 662.0,86.6 661.8,86.6 661.5,86.6 661.2,86.6 661.0,86.6 660.8,86.6 660.5,86.6 660.2,86.7 660.0,86.7 659.8,86.7 659.5,86.7 659.2,86.7 659.0,86.7 658.8,86.7 658.5,86.8 658.2,86.7 658.0,86.7 657.8,86.7 657.5,86.7 657.2,86.7 657.0,86.7 656.8,86.8 656.5,86.8 656.2,86.8 656.0,86.8 655.8,86.8 655.5,86.8 655.2,86.8 655.0,86.8 654.8,86.8 654.5,86.8 654.2,86.8 654.0,86.8 653.8,86.8 653.5,86.8 653.2,86.8 653.0,86.8 652.8,86.8 652.5,86.8 652.2,86.8 652.0,86.8 651.8,86.8 651.5,86.8 651.2,86.8 651.0,86.8 650.8,86.8 650.5,86.8 650.2,86.8 650.0,86.8 649.8,86.8 649.5,86.9 649.2,86.8 649.0,86.8 648.8,86.8 648.5,86.9 648.2,86.9 648.0,86.9 647.8,86.9 647.5,86.9 647.2,86.9 647.0,86.9 646.8,86.9 646.5,86.9 646.2,86.9 646.0,86.9 645.8,86.9 645.5,86.9 645.2,86.9 645.0,86.9 644.8,87.0 644.5,87.0 644.2,87.0 644.0,87.0 643.8,87.0 643.5,87.0 643.2,87.0 643.0,87.1 642.8,87.1 642.5,87.1 642.2,87.1 642.0,87.1 641.8,87.1 641.5,87.1 641.2,87.1 641.0,87.1 640.8,87.2 640.5,87.2 640.2,87.2 640.0,87.2 639.8,87.2 639.5,87.2 639.2,87.3 639.0,87.3 638.8,87.3 638.5,87.3 638.2,87.3 638.0,87.3 637.8,87.3 637.5,87.3 637.2,87.3 637.0,87.3 636.8,87.3 636.5,87.3 636.2,87.3 636.0,87.3 635.8,87.3 635.5,87.3 635.2,87.3 635.0,87.3 634.8,87.3 634.5,87.3 634.2,87.3 634.0,87.3 633.8,87.3 633.5,87.3 633.2,87.3 633.0,87.3 632.8,87.3 632.5,87.3 632.2,87.3 632.0,87.3 631.8,87.3 631.5,87.4 631.2,87.4 631.0,87.4 630.8,87.4 630.5,87.5 630.2,87.4 630.0,87.4 629.8,87.5 629.5,87.5 629.2,87.5 629.0,87.5 628.8,87.5 628.5,87.6 628.2,87.6 628.0,87.6 627.8,87.6 627.5,87.6 627.2,87.7 627.0,87.7 626.8,87.7 626.5,87.8 626.2,87.8 626.0,87.8 625.8,87.8 625.5,87.8 625.2,87.8 625.0,87.7 624.8,87.7 624.5,87.6 624.2,87.6 624.0,87.6 623.8,87.6 623.5,87.6 623.2,87.6 623.0,87.6 622.8,87.6 622.5,87.5 622.2,87.5 622.0,87.5 621.8,87.5 621.5,87.5 621.2,87.4 621.0,87.4 620.8,87.4 620.5,87.4 620.2,87.4 620.0,87.4 619.8,87.5 619.5,87.5 619.2,87.5 619.0,87.5 618.8,87.6 618.5,87.6 618.2,87.8 618.0,87.9 617.8,88.1 617.5,88.0 617.2,88.0 617.0,88.0 616.8,88.1 616.5,88.1 616.2,88.2 616.0,88.3 615.8,88.3 615.5,88.2 615.2,88.2 615.0,88.2 614.8,88.2 614.5,88.2 614.2,88.2 614.0,88.2 613.8,88.2 613.5,88.2 613.2,88.3 613.0,88.3 612.8,88.4 612.5,88.4 612.2,88.3 612.0,88.2 611.8,88.1 611.5,88.1 611.2,88.1 611.0,88.0 610.8,88.0 610.5,88.0 610.2,87.9 610.0,87.9 609.8,87.8 609.5,87.8 609.2,87.8 609.0,87.8 608.8,87.8 608.5,87.8 608.2,87.8 608.0,87.8 607.8,87.8 607.5,87.8 607.2,87.8 607.0,87.7 606.8,87.7 606.5,87.7 606.2,87.7 606.0,87.7 605.8,87.7 605.5,87.7 605.2,87.7 605.0,87.7 604.8,87.8 604.5,87.8 604.2,87.8 604.0,87.8 603.8,87.8 603.5,87.9 603.2,87.9 603.0,88.0 602.8,88.1 602.5,88.2 602.2,88.3 602.0,88.3 601.8,88.4 601.5,88.4 601.2,88.5 601.0,88.6 600.8,88.6 600.5,88.7 600.2,88.7 600.0,88.8 599.8,88.9 599.5,88.9 599.2,88.9 599.0,88.9 598.8,89.0 598.5,89.1 598.2,89.4 598.0,89.6 597.8,89.4 597.5,89.2 597.2,89.2 597.0,89.2 596.8,89.2 596.5,89.1 596.2,89.1 596.0,89.0 595.8,89.0 595.5,89.0 595.2,89.0 595.0,88.9 594.8,88.9 594.5,88.9 594.2,88.7 594.0,88.6 593.8,88.6 593.5,88.6 593.2,88.6 593.0,88.6 592.8,88.5 592.5,88.5 592.2,88.4 592.0,88.3 591.8,88.2 591.5,88.1 591.2,88.0 591.0,88.1 590.8,88.1 590.5,88.2 590.2,88.3 590.0,88.4 589.8,88.5 589.5,88.6 589.2,88.6 589.0,88.6 588.8,88.7 588.5,88.7 588.2,88.8 588.0,88.8 587.8,88.9 587.5,88.9 587.2,88.9 587.0,88.9 586.8,88.9 586.5,89.0 586.2,89.0 586.0,89.1 585.8,89.0 585.5,89.0 585.2,88.9 585.0,88.9 584.8,89.0 584.5,89.0 584.2,89.1 584.0,89.1 583.8,89.0 583.5,88.9 583.2,88.8 583.0,88.8 582.8,88.8 582.5,88.8 582.2,89.1 582.0,89.3 581.8,89.2 581.5,89.0 581.2,89.1 581.0,89.1 580.8,89.1 580.5,89.2 580.2,89.2 580.0,89.2 579.8,89.2 579.5,89.3 579.2,89.5 579.0,89.6 578.8,89.8 578.5,89.8 578.2,89.8 578.0,89.7 577.8,89.6 577.5,89.6 577.2,89.7 577.0,89.7 576.8,89.7 576.5,89.9 576.2,90.1 576.0,90.2 575.8,90.4 575.5,90.4 575.2,90.3 575.0,90.2 574.8,90.1 574.5,90.2 574.2,90.3 574.0,90.5 573.8,90.6 573.5,90.5 573.2,90.3 573.0,90.1 572.8,90.1 572.5,90.1 572.2,90.2 572.0,90.3 571.8,90.4 571.5,90.4 571.2,90.3 571.0,90.3 570.8,90.3 570.5,90.5 570.2,90.7 570.0,91.0 569.8,91.2 569.5,91.5 569.2,91.7 569.0,92.0 568.8,92.2 568.5,92.5 568.2,92.7 568.0,92.9 567.8,93.2 567.5,93.4 567.2,93.7 567.0,94.0 566.8,94.3 566.5,94.6 566.2,95.1 566.0,95.4 565.8,96.0 565.5,96.6 565.2,96.8 565.0,96.8 564.8,96.7 564.5,96.8 564.2,97.0 564.0,97.3 563.8,97.6 563.5,97.8 563.2,98.0 563.0,98.1 562.8,98.1 562.5,98.2 562.2,98.2 562.0,98.3 561.8,98.4 561.5,98.7 561.2,99.3 561.0,100.0 560.8,100.3 560.5,100.1 560.2,100.2 560.0,100.2 559.8,100.5 559.5,100.8 559.2,101.1 559.0,101.5 558.8,101.7 558.5,101.9 558.2,101.9 558.0,102.0 557.8,102.2 557.5,103.4 557.2,105.7 557.0,108.3 556.8,110.9 556.5,113.6 556.2,116.8 556.0,119.7 555.8,121.8 555.5,121.8 555.2,121.8 555.0,121.8 554.8,121.8 554.5,121.3 554.2,121.0 554.0,121.3 553.8,121.5 553.5,120.2 553.2,119.4 553.0,118.1 552.8,117.5 552.5,116.9 552.2,115.8 552.0,115.5 551.8,115.5 551.5,115.5 551.2,116.6 551.0,117.4 550.8,116.2 550.5,114.7 550.2,113.8 550.0,113.3 549.8,113.9 549.5,114.5 549.2,116.5 549.0,116.6 548.8,116.5 548.5,116.5 548.2,117.7 548.0,118.6 547.8,119.5 547.5,120.4 547.2,121.8 547.0,123.6 546.8,125.4 546.5,125.5 546.2,124.7 546.0,123.8 545.8,123.5 545.5,123.6 545.2,122.9 545.0,122.3 544.8,121.7 544.5,121.2 544.2,120.4 544.0,119.8 543.8,119.2 543.5,118.6 543.2,119.0 543.0,119.3 542.8,119.5 542.5,118.0 542.2,116.2 542.0,115.0 541.8,114.3 541.5,113.6 541.2,113.0 541.0,112.3 540.8,111.5 540.5,110.8 540.2,111.0 540.0,112.4 539.8,113.8 539.5,115.3 539.2,117.6 539.0,118.2 538.8,118.9 538.5,118.8 538.2,118.7 538.0,118.7 537.8,118.7 537.5,118.7 537.2,117.8 537.0,116.7 536.8,115.5 536.5,114.4 536.2,113.0 536.0,113.0 535.8,112.9 535.5,112.3 535.2,109.8 535.0,107.7 534.8,105.9 534.5,105.0 534.2,104.1 534.0,104.1 533.8,104.1 533.5,104.3 533.2,104.6 533.0,104.9 532.8,105.1 532.5,104.9 532.2,104.7 532.0,104.5 531.8,104.3 531.5,104.3 531.2,104.3 531.0,104.3 530.8,104.3 530.5,104.4 530.2,105.3 530.0,106.5 529.8,107.8 529.5,109.1 529.2,110.3 529.0,111.1 528.8,111.9 528.5,112.7 528.2,113.6 528.0,114.7 527.8,115.8 527.5,116.9 527.2,117.4 527.0,117.4 526.8,117.4 526.5,117.6 526.2,117.7 526.0,117.6 525.8,117.0 525.5,116.3 525.2,116.1 525.0,115.6 524.8,115.0 524.5,114.5 524.2,113.4 524.0,112.8 523.8,112.7 523.5,113.1 523.2,113.4 523.0,114.0 522.8,114.5 522.5,114.9 522.2,116.4 522.0,117.0 521.8,117.5 521.5,117.9 521.2,117.9 521.0,117.9 520.8,118.1 520.5,118.5 520.2,119.4 520.0,119.4 519.8,119.4 519.5,119.4 519.2,119.4 519.0,118.9 518.8,118.4 518.5,118.3 518.2,118.3 518.0,118.1 517.8,118.0 517.5,117.8 517.2,117.2 517.0,117.0 516.8,116.9 516.5,117.4 516.2,118.2 516.0,118.0 515.8,116.8 515.5,115.6 515.2,114.5 515.0,114.1 514.8,113.6 514.5,113.2 514.2,113.0 514.0,112.5 513.8,112.0 513.5,111.6 513.2,111.5 513.0,111.0 512.8,110.3 512.5,110.6 512.2,110.7 512.0,111.1 511.8,111.7 511.5,113.0 511.2,114.3 511.0,114.9 510.8,114.7 510.5,114.5 510.2,115.3 510.0,115.9 509.8,116.0 509.5,116.0 509.2,116.0 509.0,116.0 508.8,115.6 508.5,115.2 508.2,114.1 508.0,113.7 507.8,113.3 507.5,113.1 507.2,113.1 507.0,112.4 506.8,111.7 506.5,111.1 506.2,110.7 506.0,111.2 505.8,113.2 505.5,114.5 505.2,116.1 505.0,116.8 504.8,118.1 504.5,119.4 504.2,120.3 504.0,121.6 503.8,123.0 503.5,124.0 503.2,125.2 503.0,125.4 502.8,125.5 502.5,125.6 502.2,125.6 502.0,125.5 501.8,124.6 501.5,123.7 501.2,122.9 501.0,122.0 500.8,121.5 500.5,121.3 500.2,120.6 500.0,120.2 499.8,119.0 499.5,117.8 499.2,117.1 499.0,116.8 498.8,117.1 498.5,117.4 498.2,117.9 498.0,118.2 497.8,118.5 497.5,118.8 497.2,118.8 497.0,119.1 496.8,119.4 496.5,119.8 496.2,121.0 496.0,121.4 495.8,121.7 495.5,122.3 495.2,123.0 495.0,123.4 494.8,123.7 494.5,123.8 494.2,124.2 494.0,124.4 493.8,124.7 493.5,125.0 493.2,125.2 493.0,126.5 492.8,128.1 492.5,127.9 492.2,126.9 492.0,126.2 491.8,126.4 491.5,126.5 491.2,126.5 491.0,126.5 490.8,126.6 490.5,126.8 490.2,127.6 490.0,127.6 489.8,128.3 489.5,129.1 489.2,128.6 489.0,127.5 488.8,127.0 488.5,126.6 488.2,125.5 488.0,125.1 487.8,124.7 487.5,124.3 487.2,123.7 487.0,123.3 486.8,123.0 486.5,123.4 486.2,123.9 486.0,124.4 485.8,124.2 485.5,123.1 485.2,121.8 485.0,120.6 484.8,119.8 484.5,119.4 484.2,118.9 484.0,118.4 483.8,117.9 483.5,117.4 483.2,117.3 483.0,116.8 482.8,116.4 482.5,116.4 482.2,116.7 482.0,116.1 481.8,115.1 481.5,114.2 481.2,113.5 481.0,113.0 480.8,112.5 480.5,112.0 480.2,110.4 480.0,109.9 479.8,109.4 479.5,109.0 479.2,109.2 479.0,109.5 478.8,110.4 478.5,111.9 478.2,112.4 478.0,112.7 477.8,112.9 477.5,113.2 477.2,114.5 477.0,115.5 476.8,116.5 476.5,117.3 476.2,117.5 476.0,118.3 475.8,119.2 475.5,119.2 475.2,119.2 475.0,119.2 474.8,119.2 474.5,118.6 474.2,118.1 474.0,117.1 473.8,116.1 473.5,115.1 473.2,113.4 473.0,112.4 472.8,111.4 472.5,110.4 472.2,110.2 472.0,109.2 471.8,108.1 471.5,108.3 471.2,110.6 471.0,111.0 470.8,110.6 470.5,110.6 470.2,111.3 470.0,112.1 469.8,112.8 469.5,113.5 469.2,113.7 469.0,114.8 468.8,115.5 468.5,115.5 468.2,115.6 468.0,115.6 467.8,115.6 467.5,115.0 467.2,114.9 467.0,114.2 466.8,113.5 466.5,112.8 466.2,111.4 466.0,111.7 465.8,112.9 465.5,114.5 465.2,117.3 465.0,118.9 464.8,119.0 464.5,119.3 464.2,119.3 464.0,120.2 463.8,121.1 463.5,122.0 463.2,123.0 463.0,123.3 462.8,123.6 462.5,123.7 462.2,123.5 462.0,123.2 461.8,121.9 461.5,120.8 461.2,120.7 461.0,120.6 460.8,120.5 460.5,120.3 460.2,118.1 460.0,116.5 459.8,114.8 459.5,113.7 459.2,113.7 459.0,112.8 458.8,111.9 458.5,110.9 458.2,110.0 458.0,109.0 457.8,108.1 457.5,107.8 457.2,107.9 457.0,108.3 456.8,109.1 456.5,109.9 456.2,110.5 456.0,110.7 455.8,110.1 455.5,109.8 455.2,110.3 455.0,110.3 454.8,110.8 454.5,111.2 454.2,111.2 454.0,111.7 453.8,112.2 453.5,112.9 453.2,113.8 453.0,114.4 452.8,114.6 452.5,114.8 452.2,115.0 452.0,115.2 451.8,115.5 451.5,115.9 451.2,115.9 451.0,116.2 450.8,117.1 450.5,118.4 450.2,118.5 450.0,118.5 449.8,118.8 449.5,119.4 449.2,120.2 449.0,120.7 448.8,121.3 448.5,122.0 448.2,122.8 448.0,123.2 447.8,123.7 447.5,124.2 447.2,124.2 447.0,124.2 446.8,124.2 446.5,124.2 446.2,122.7 446.0,122.1 445.8,122.4 445.5,122.8 445.2,122.0 445.0,120.4 444.8,119.7 444.5,119.1 444.2,118.3 444.0,117.7 443.8,117.2 443.5,116.6 443.2,115.4 443.0,115.0 442.8,115.0 442.5,115.7 442.2,115.9 442.0,114.1 441.8,112.7 441.5,112.1 441.2,111.4 441.0,110.7 440.8,110.1 440.5,109.7 440.2,109.1 440.0,109.3 439.8,109.3 439.5,109.3 439.2,110.3 439.0,110.8 438.8,111.4 438.5,112.1 438.2,112.2 438.0,112.4 437.8,112.6 437.5,113.1 437.2,113.2 437.0,114.3 436.8,115.4 436.5,116.5 436.2,117.8 436.0,118.9 435.8,120.0 435.5,121.1 435.2,122.3 435.0,123.4 434.8,124.8 434.5,126.2 434.2,127.4 434.0,128.4 433.8,128.7 433.5,128.4 433.2,128.2 433.0,128.2 432.8,128.2 432.5,127.0 432.2,125.6 432.0,124.2 431.8,122.7 431.5,121.2 431.2,119.8 431.0,118.4 430.8,117.1 430.5,115.8 430.2,115.4 430.0,114.3 429.8,113.5 429.5,115.0 429.2,117.3 429.0,118.7 428.8,120.0 428.5,121.6 428.2,122.2 428.0,122.6 427.8,122.6 427.5,122.6 427.2,122.6 427.0,122.9 426.8,122.0 426.5,120.9 426.2,120.3 426.0,118.6 425.8,116.8 425.5,115.0 425.2,113.1 425.0,111.7 424.8,110.4 424.5,110.2 424.2,110.2 424.0,109.9 423.8,110.3 423.5,110.9 423.2,110.3 423.0,109.2 422.8,108.1 422.5,107.9 422.2,107.9 422.0,107.5 421.8,107.6 421.5,108.4 421.2,110.2 421.0,111.0 420.8,112.1 420.5,113.5 420.2,113.9 420.0,113.7 419.8,113.4 419.5,113.9 419.2,114.5 419.0,115.0 418.8,115.5 418.5,116.0 418.2,117.0 418.0,118.4 417.8,119.9 417.5,120.9 417.2,120.1 417.0,120.0 416.8,120.6 416.5,121.3 416.2,122.4 416.0,123.2 415.8,123.9 415.5,124.3 415.2,124.1 415.0,123.9 414.8,123.9 414.5,123.9 414.2,123.9 414.0,123.3 413.8,122.8 413.5,122.3 413.2,120.9 413.0,120.4 412.8,119.8 412.5,119.2 412.2,119.0 412.0,118.4 411.8,117.8 411.5,117.3 411.2,116.2 411.0,115.6 410.8,115.2 410.5,115.1 410.2,114.9 410.0,114.7 409.8,114.4 409.5,114.1 409.2,113.8 409.0,113.5 408.8,113.3 408.5,113.1 408.2,113.3 408.0,113.2 407.8,113.2 407.5,112.9 407.2,112.5 407.0,112.2 406.8,111.8 406.5,111.5 406.2,111.3 406.0,111.1 405.8,110.7 405.5,110.3 405.2,110.1 405.0,110.1 404.8,110.1 404.5,110.2 404.2,111.4 404.0,112.3 403.8,112.3 403.5,111.5 403.2,111.2 403.0,111.3 402.8,111.4 402.5,111.4 402.2,111.4 402.0,111.4 401.8,111.4 401.5,111.5 401.2,112.2 401.0,113.0 400.8,112.5 400.5,111.5 400.2,110.5 400.0,110.2 399.8,110.2 399.5,110.2 399.2,110.4 399.0,110.2 398.8,109.8 398.5,109.2 398.2,108.3 398.0,107.8 397.8,107.4 397.5,107.0 397.2,106.2 397.0,106.0 396.8,106.5 396.5,106.9 396.2,107.0 396.0,107.0 395.8,107.2 395.5,107.5 395.2,108.7 395.0,109.1 394.8,110.4 394.5,111.7 394.2,111.6 394.0,110.7 393.8,109.9 393.5,110.3 393.2,110.6 393.0,111.4 392.8,112.2 392.5,113.0 392.2,114.3 392.0,115.5 391.8,116.7 391.5,117.5 391.2,117.5 391.0,117.9 390.8,118.5 390.5,119.3 390.2,119.3 390.0,119.4 389.8,119.4 389.5,119.5 389.2,119.3 389.0,118.7 388.8,118.0 388.5,117.8 388.2,118.0 388.0,117.6 387.8,117.1 387.5,115.9 387.2,114.8 387.0,113.6 386.8,113.6 386.5,113.5 386.2,113.6 386.0,114.0 385.8,114.5 385.5,115.0 385.2,114.9 385.0,114.7 384.8,114.9 384.5,115.3 384.2,116.1 384.0,116.8 383.8,117.6 383.5,118.8 383.2,120.1 383.0,120.1 382.8,120.1 382.5,120.7 382.2,121.3 382.0,121.9 381.8,122.5 381.5,123.3 381.2,124.0 381.0,124.4 380.8,124.4 380.5,124.4 380.2,124.5 380.0,124.5 379.8,124.2 379.5,123.9 379.2,123.5 379.0,123.2 378.8,122.9 378.5,122.6 378.2,123.2 378.0,123.9 377.8,123.3 377.5,122.0 377.2,121.8 377.0,122.3 376.8,122.9 376.5,123.4 376.2,124.2 376.0,125.1 375.8,125.9 375.5,126.1 375.2,125.8 375.0,125.9 374.8,126.3 374.5,126.7 374.2,127.5 374.0,127.5 373.8,127.5 373.5,127.5 373.2,127.8 373.0,127.1 372.8,126.1 372.5,124.8 372.2,122.8 372.0,121.8 371.8,120.8 371.5,119.8 371.2,119.7 371.0,119.7 370.8,119.7 370.5,119.7 370.2,118.9 370.0,117.3 369.8,115.9 369.5,115.3 369.2,114.3 369.0,114.7 368.8,115.5 368.5,115.3 368.2,113.9 368.0,113.1 367.8,113.1 367.5,113.2 367.2,114.0 367.0,114.6 366.8,114.2 366.5,113.3 366.2,112.5 366.0,112.5 365.8,113.4 365.5,114.3 365.2,114.6 365.0,113.5 364.8,112.4 364.5,111.3 364.2,111.2 364.0,111.0 363.8,110.9 363.5,110.7 363.2,109.9 363.0,109.8 362.8,109.9 362.5,110.1 362.2,110.1 362.0,109.8 361.8,109.5 361.5,109.4 361.2,109.5 361.0,109.7 360.8,110.0 360.5,110.3 360.2,109.7 360.0,109.5 359.8,109.3 359.5,109.1 359.2,109.5 359.0,109.8 358.8,110.0 358.5,110.5 358.2,110.5 358.0,110.5 357.8,111.0 357.5,111.5 357.2,112.0 357.0,112.5 356.8,113.0 356.5,114.4 356.2,115.7 356.0,115.3 355.8,114.3 355.5,113.9 355.2,114.0 355.0,114.1 354.8,114.3 354.5,114.6 354.2,114.8 354.0,114.8 353.8,114.8 353.5,115.0 353.2,115.3 353.0,115.8 352.8,116.2 352.5,116.6 352.2,118.0 352.0,118.5 351.8,118.7 351.5,118.9 351.2,118.9 351.0,118.9 350.8,119.0 350.5,119.2 350.2,119.9 350.0,120.1 349.8,120.4 349.5,120.6 349.2,120.6 349.0,120.8 348.8,121.4 348.5,122.0 348.2,122.2 348.0,121.7 347.8,121.2 347.5,121.3 347.2,121.3 347.0,121.3 346.8,121.3 346.5,121.3 346.2,122.1 346.0,122.2 345.8,122.3 345.5,122.3 345.2,122.3 345.0,122.3 344.8,122.4 344.5,122.0 344.2,121.2 344.0,120.7 343.8,120.5 343.5,120.3 343.2,119.5 343.0,119.4 342.8,119.7 342.5,119.9 342.2,119.8 342.0,119.1 341.8,118.7 341.5,118.4 341.2,118.4 341.0,118.2 340.8,117.9 340.5,117.6 340.2,117.5 340.0,117.5 339.8,117.5 339.5,117.5 339.2,117.1 339.0,117.1 338.8,117.1 338.5,117.1 338.2,117.1 338.0,117.0 337.8,117.0 337.5,117.0 337.2,117.0 337.0,117.2 336.8,117.5 336.5,117.9 336.2,118.3 336.0,118.4 335.8,118.4 335.5,118.3 335.2,118.8 335.0,118.8 334.8,118.8 334.5,119.0 334.2,119.9 334.0,120.5 333.8,120.5 333.5,119.4 333.2,117.8 333.0,117.2 332.8,117.0 332.5,116.8 332.2,116.7 332.0,116.5 331.8,116.8 331.5,117.3 331.2,118.0 331.0,118.5 330.8,118.0 330.5,117.0 330.2,115.7 330.0,114.7 329.8,114.6 329.5,114.7 329.2,114.9 329.0,115.1 328.8,115.3 328.5,115.3 328.2,115.6 328.0,115.7 327.8,115.9 327.5,116.1 327.2,116.6 327.0,116.9 326.8,117.3 326.5,117.5 326.2,117.5 326.0,117.9 325.8,118.4 325.5,118.9 325.2,119.6 325.0,120.2 324.8,120.9 324.5,121.6 324.2,122.3 324.0,123.3 323.8,124.3 323.5,125.2 323.2,125.6 323.0,126.5 322.8,127.2 322.5,127.2 322.2,127.2 322.0,127.2 321.8,127.2 321.5,127.2 321.2,128.2 321.0,129.3 320.8,128.7 320.5,127.9 320.2,128.5 320.0,128.8 319.8,129.0 319.5,129.3 319.2,129.5 319.0,129.8 318.8,130.1 318.5,130.5 318.2,131.5 318.0,132.6 317.8,133.8 317.5,133.1 317.2,132.2 317.0,131.2 316.8,131.2 316.5,131.2 316.2,131.2 316.0,130.5 315.8,129.8 315.5,129.1 315.2,128.3 315.0,127.1 314.8,125.8 314.5,124.6 314.2,123.5 314.0,122.6 313.8,121.7 313.5,120.7 313.2,120.4 313.0,120.4 312.8,120.4 312.5,118.5 312.2,116.2 312.0,115.1 311.8,115.2 311.5,115.7 311.2,116.1 311.0,116.5 310.8,116.1 310.5,115.7 310.2,115.4 310.0,115.4 309.8,115.5 309.5,115.7 309.2,116.3 309.0,116.8 308.8,117.4 308.5,116.9 308.2,115.3 308.0,114.6 307.8,114.4 307.5,114.4 307.2,114.4 307.0,114.3 306.8,114.2 306.5,115.2 306.2,115.3 306.0,115.1 305.8,113.8 305.5,113.0 305.2,113.0 305.0,113.4 304.8,114.0 304.5,114.6 304.2,114.2 304.0,113.0 303.8,112.1 303.5,111.7 303.2,111.7 303.0,111.6 302.8,111.4 302.5,111.3 302.2,110.7 302.0,110.9 301.8,111.1 301.5,111.0 301.2,110.9 301.0,110.6 300.8,110.5 300.5,110.9 300.2,111.6 300.0,112.2 299.8,112.8 299.5,111.9 299.2,110.9 299.0,110.0 298.8,109.4 298.5,109.2 298.2,110.1 298.0,110.7 297.8,111.4 297.5,111.5 297.2,111.0 297.0,110.9 296.8,111.2 296.5,111.5 296.2,112.1 296.0,112.5 295.8,112.9 295.5,113.3 295.2,114.3 295.0,114.9 294.8,115.4 294.5,116.0 294.2,117.1 294.0,118.6 293.8,120.0 293.5,121.4 293.2,122.5 293.0,124.0 292.8,125.4 292.5,126.8 292.2,127.9 292.0,128.0 291.8,128.3 291.5,128.3 291.2,128.1 291.0,126.8 290.8,125.6 290.5,124.4 290.2,123.1 290.0,121.9 289.8,120.7 289.5,119.7 289.2,118.9 289.0,117.8 288.8,116.6 288.5,115.4 288.2,114.9 288.0,115.7 287.8,116.5 287.5,117.6 287.2,118.6 287.0,120.1 286.8,120.1 286.5,119.5 286.2,119.3 286.0,119.3 285.8,119.7 285.5,120.7 285.2,121.8 285.0,120.1 284.8,118.3 284.5,117.1 284.2,115.6 284.0,115.1 283.8,114.6 283.5,114.2 283.2,114.1 283.0,113.6 282.8,113.4 282.5,113.9 282.2,113.8 282.0,112.8 281.8,111.3 281.5,110.1 281.2,109.5 281.0,109.0 280.8,108.7 280.5,108.5 280.2,108.3 280.0,108.0 279.8,107.8 279.5,107.7 279.2,107.7 279.0,107.4 278.8,107.0 278.5,106.9 278.2,106.9 278.0,106.7 277.8,106.8 277.5,107.0 277.2,107.6 277.0,108.5 276.8,109.1 276.5,108.5 276.2,107.7 276.0,107.8 275.8,108.2 275.5,108.7 275.2,108.9 275.0,109.9 274.8,111.4 274.5,113.0 274.2,113.8 274.0,114.9 273.8,115.5 273.5,116.1 273.2,117.7 273.0,118.9 272.8,120.1 272.5,121.4 272.2,123.0 272.0,124.2 271.8,125.5 271.5,125.4 271.2,125.3 271.0,125.2 270.8,125.2 270.5,124.7 270.2,123.0 270.0,121.8 269.8,120.9 269.5,120.4 269.2,119.7 269.0,119.1 268.8,117.2 268.5,115.4 268.2,114.2 268.0,112.8 267.8,111.6 267.5,112.5 267.2,113.4 267.0,114.5 266.8,115.6 266.5,117.1 266.2,118.2 266.0,119.9 265.8,120.5 265.5,121.1 265.2,122.4 265.0,122.5 264.8,122.6 264.5,122.7 264.2,122.7 264.0,122.7 263.8,122.8 263.5,123.3 263.2,123.5 263.0,123.3 262.8,123.3 262.5,123.3 262.2,123.6 262.0,124.1 261.8,124.7 261.5,125.2 261.2,125.7 261.0,125.1 260.8,124.4 260.5,123.8 260.2,123.3 260.0,123.3 259.8,123.3 259.5,123.3 259.2,123.3 259.0,123.2 258.8,123.1 258.5,123.3 258.2,123.6 258.0,122.9 257.8,120.9 257.5,118.9 257.2,117.3 257.0,115.6 256.8,113.9 256.5,112.2 256.2,109.5 256.0,109.6 255.8,110.7 255.5,111.7 255.2,112.8 255.0,113.5 254.8,113.5 254.5,113.4 254.2,113.3 254.0,113.6 253.8,114.1 253.5,114.5 253.2,114.9 253.0,114.9 252.8,114.9 252.5,114.9 252.2,114.9 252.0,114.4 251.8,113.9 251.5,113.4 251.2,112.9 251.0,112.4 250.8,111.8 250.5,111.6 250.2,111.0 250.0,111.4 249.8,112.1 249.5,112.0 249.2,111.1 249.0,110.0 248.8,108.9 248.5,108.4 248.2,108.3 248.0,108.8 247.8,109.3 247.5,109.8 247.2,110.2 247.0,111.1 246.8,112.2 246.5,113.2 246.2,112.8 246.0,112.6 245.8,112.6 245.5,112.9 245.2,112.9 245.0,112.9 244.8,113.3 244.5,113.7 244.2,114.1 244.0,113.2 243.8,112.3 243.5,111.6 243.2,111.2 243.0,110.8 242.8,110.5 242.5,110.2 242.2,109.6 242.0,109.1 241.8,108.5 241.5,107.8 241.2,107.7 241.0,108.0 240.8,108.3 240.5,108.5 240.2,108.9 240.0,109.2 239.8,109.5 239.5,109.8 239.2,110.3 239.0,111.4 238.8,112.8 238.5,113.2 238.2,113.7 238.0,113.2 237.8,113.3 237.5,113.7 237.2,113.7 237.0,113.7 236.8,113.7 236.5,113.7 236.2,113.0 236.0,112.4 235.8,111.8 235.5,111.1 235.2,110.8 235.0,110.2 234.8,109.4 234.5,108.5 234.2,108.1 234.0,107.3 233.8,107.2 233.5,106.9 233.2,105.9 233.0,104.6 232.8,103.4 232.5,102.6 232.2,101.6 232.0,101.6 231.8,102.0 231.5,102.4 231.2,102.5 231.0,102.9 230.8,103.3 230.5,103.7 230.2,104.4 230.0,104.7 229.8,105.0 229.5,105.3 229.2,105.3 229.0,105.3 228.8,105.7 228.5,106.0 228.2,106.1 228.0,106.1 227.8,106.1 227.5,106.1 227.2,106.1 227.0,105.6 226.8,105.2 226.5,104.8 226.2,105.1 226.0,104.6 225.8,103.6 225.5,102.5 225.2,101.1 225.0,100.1 224.8,99.4 224.5,98.7 224.2,98.0 224.0,98.1 223.8,98.2 223.5,98.4 223.2,98.4 223.0,98.4 222.8,98.6 222.5,98.9 222.2,99.3 222.0,99.3 221.8,99.3 221.5,99.4 221.2,99.4 221.0,99.4 220.8,99.4 220.5,99.5 220.2,99.8 220.0,100.0 219.8,100.1 219.5,100.2 219.2,100.7 219.0,100.7 218.8,100.7 218.5,100.7 218.2,100.7 218.0,100.6 217.8,100.2 217.5,99.7 217.2,98.8 217.0,98.4 216.8,98.0 216.5,97.6 216.2,97.1 216.0,96.3 215.8,95.5 215.5,94.8 215.2,94.1 215.0,94.1 214.8,94.7 214.5,95.3 214.2,95.7 214.0,96.3 213.8,96.5 213.5,96.8 213.2,97.5 213.0,97.7 212.8,98.2 212.5,98.7 212.2,99.0 212.0,99.0 211.8,99.0 211.5,99.1 211.2,99.3 211.0,99.3 210.8,98.9 210.5,98.4 210.2,97.8 210.0,97.3 209.8,96.9 209.5,96.4 209.2,96.0 209.0,95.7 208.8,95.3 208.5,95.0 208.2,94.6 208.0,94.6 207.8,94.7 207.5,94.7 207.2,94.5 207.0,94.2 206.8,94.0 206.5,93.8 206.2,93.6 206.0,93.7 205.8,93.6 205.5,93.4 205.2,93.4 205.0,93.4 204.8,93.6 204.5,93.8 204.2,94.0 204.0,94.0 203.8,94.0 203.5,94.0 203.2,94.0 203.0,93.7 202.8,93.1 202.5,92.6 202.2,92.0 202.0,91.6 201.8,91.1 201.5,90.6 201.2,90.1 201.0,89.6 200.8,89.0 200.5,88.6 200.2,88.3 200.0,88.2 199.8,87.9 199.5,87.7 199.2,87.4 199.0,87.2 198.8,87.1 198.5,86.9 198.2,86.7 198.0,86.5" fill="#0072BD" stroke="#0072BD" stroke-width="0.35" stroke-linejoin="round"/>
<path d="M196.0,301.36 L197.0,300.97 L198.0,300.45 L199.0,299.88 L200.0,299.31 L201.0,298.73 L202.0,298.16 L203.0,297.59 L204.0,296.99 L205.0,296.33 L206.0,295.60 L207.0,294.82 L208.0,294.03 L209.0,293.23 L210.0,292.43 L211.0,291.63 L212.0,290.83 L213.0,290.03 L214.0,289.19 L215.0,288.25 L216.0,287.19 L217.0,286.06 L218.0,284.92 L219.0,283.76 L220.0,282.61 L221.0,281.46 L222.0,280.31 L223.0,279.16 L224.0,278.01 L225.0,276.89 L226.0,275.77 L227.0,274.67 L228.0,273.57 L229.0,272.47 L230.0,271.36 L231.0,270.26 L232.0,269.16 L233.0,268.06 L234.0,266.96 L235.0,265.87 L236.0,264.79 L237.0,263.71 L238.0,262.63 L239.0,261.54 L240.0,260.46 L241.0,259.38 L242.0,258.30 L243.0,257.23 L244.0,256.17 L245.0,255.17 L246.0,254.21 L247.0,253.27 L248.0,252.34 L249.0,251.40 L250.0,250.48 L251.0,249.61 L252.0,248.87 L253.0,248.31 L254.0,247.87 L255.0,247.47 L256.0,247.11 L257.0,246.85 L258.0,246.74 L259.0,246.70 L260.0,246.71 L261.0,246.75 L262.0,246.90 L263.0,247.17 L264.0,247.51 L265.0,247.87 L266.0,248.23 L267.0,248.60 L268.0,248.96 L269.0,249.34 L270.0,249.73 L271.0,250.12 L272.0,250.52 L273.0,250.92 L274.0,251.32 L275.0,251.70 L276.0,251.99 L277.0,252.07 L278.0,251.90 L279.0,251.60 L280.0,251.24 L281.0,250.82 L282.0,250.26 L283.0,249.55 L284.0,248.76 L285.0,247.96 L286.0,247.16 L287.0,246.38 L288.0,245.65 L289.0,245.00 L290.0,244.39 L291.0,243.79 L292.0,243.20 L293.0,242.65 L294.0,242.24 L295.0,242.02 L296.0,241.93 L297.0,241.88 L298.0,241.87 L299.0,241.91 L300.0,242.05 L301.0,242.25 L302.0,242.48 L303.0,242.70 L304.0,242.90 L305.0,243.04 L306.0,243.07 L307.0,243.01 L308.0,242.91 L309.0,242.74 L310.0,242.41 L311.0,241.81 L312.0,241.02 L313.0,240.13 L314.0,239.14 L315.0,237.84 L316.0,236.07 L317.0,233.93 L318.0,231.67 L319.0,229.35 L320.0,226.97 L321.0,224.47 L322.0,221.90 L323.0,219.31 L324.0,216.72 L325.0,214.17 L326.0,211.79 L327.0,209.66 L328.0,207.74 L329.0,205.91 L330.0,204.17 L331.0,202.66 L332.0,201.52 L333.0,200.70 L334.0,200.03 L335.0,199.55 L336.0,199.43 L337.0,199.70 L338.0,200.20 L339.0,200.97 L340.0,202.27 L341.0,204.22 L342.0,206.57 L343.0,209.05 L344.0,211.64 L345.0,214.44 L346.0,217.50 L347.0,220.73 L348.0,223.99 L349.0,227.12 L350.0,229.95 L351.0,232.45 L352.0,234.74 L353.0,236.95 L354.0,238.96 L355.0,240.51 L356.0,241.54 L357.0,242.28 L358.0,242.94 L359.0,243.52 L360.0,243.89 L361.0,243.82 L362.0,243.36 L363.0,242.72 L364.0,242.01 L365.0,241.21 L366.0,240.17 L367.0,238.82 L368.0,237.28 L369.0,235.69 L370.0,234.10 L371.0,232.54 L372.0,231.07 L373.0,229.73 L374.0,228.49 L375.0,227.27 L376.0,226.07 L377.0,224.91 L378.0,223.92 L379.0,223.21 L380.0,222.71 L381.0,222.30 L382.0,221.91 L383.0,221.52 L384.0,221.15 L385.0,220.86 L386.0,220.75 L387.0,220.85 L388.0,221.05 L389.0,221.27 L390.0,221.50 L391.0,221.73 L392.0,221.96 L393.0,222.23 L394.0,222.54 L395.0,222.88 L396.0,223.24 L397.0,223.58 L398.0,223.86 L399.0,223.99 L400.0,223.94 L401.0,223.79 L402.0,223.62 L403.0,223.44 L404.0,223.28 L405.0,223.16 L406.0,223.22 L407.0,223.55 L408.0,224.08 L409.0,224.68 L410.0,225.36 L411.0,226.20 L412.0,227.29 L413.0,228.55 L414.0,229.87 L415.0,231.19 L416.0,232.49 L417.0,233.74 L418.0,234.90 L419.0,235.99 L420.0,237.05 L421.0,238.10 L422.0,239.16 L423.0,240.19 L424.0,241.17 L425.0,241.98 L426.0,242.62 L427.0,243.15 L428.0,243.65 L429.0,244.15 L430.0,244.64 L431.0,245.08 L432.0,245.33 L433.0,245.29 L434.0,245.04 L435.0,244.72 L436.0,244.38 L437.0,244.04 L438.0,243.69 L439.0,243.29 L440.0,242.77 L441.0,242.13 L442.0,241.45 L443.0,240.75 L444.0,240.04 L445.0,239.34 L446.0,238.65 L447.0,237.97 L448.0,237.38 L449.0,236.93 L450.0,236.59 L451.0,236.29 L452.0,236.00 L453.0,235.75 L454.0,235.65 L455.0,235.85 L456.0,236.31 L457.0,236.90 L458.0,237.55 L459.0,238.36 L460.0,239.42 L461.0,240.71 L462.0,242.09 L463.0,243.49 L464.0,244.88 L465.0,246.18 L466.0,247.32 L467.0,248.30 L468.0,249.20 L469.0,250.03 L470.0,250.65 L471.0,250.84 L472.0,250.58 L473.0,250.12 L474.0,249.58 L475.0,248.95 L476.0,248.11 L477.0,247.10 L478.0,246.01 L479.0,244.89 L480.0,243.79 L481.0,242.73 L482.0,241.77 L483.0,240.91 L484.0,240.10 L485.0,239.31 L486.0,238.54 L487.0,237.83 L488.0,237.29 L489.0,236.96 L490.0,236.75 L491.0,236.60 L492.0,236.50 L493.0,236.53 L494.0,236.72 L495.0,237.01 L496.0,237.33 L497.0,237.65 L498.0,237.96 L499.0,238.24 L500.0,238.48 L501.0,238.69 L502.0,238.88 L503.0,239.07 L504.0,239.22 L505.0,239.23 L506.0,239.02 L507.0,238.63 L508.0,238.17 L509.0,237.69 L510.0,237.21 L511.0,236.73 L512.0,236.22 L513.0,235.69 L514.0,235.16 L515.0,234.63 L516.0,234.14 L517.0,233.80 L518.0,233.78 L519.0,234.09 L520.0,234.55 L521.0,235.08 L522.0,235.70 L523.0,236.55 L524.0,237.62 L525.0,238.79 L526.0,239.98 L527.0,241.17 L528.0,242.33 L529.0,243.45 L530.0,244.52 L531.0,245.54 L532.0,246.54 L533.0,247.44 L534.0,248.11 L535.0,248.54 L536.0,248.83 L537.0,249.01 L538.0,248.93 L539.0,248.46 L540.0,247.70 L541.0,246.74 L542.0,245.48 L543.0,243.69 L544.0,241.44 L545.0,239.00 L546.0,236.49 L547.0,233.88 L548.0,231.09 L549.0,228.15 L550.0,225.15 L551.0,222.23 L552.0,219.58 L553.0,217.39 L554.0,215.58 L555.0,213.92 L556.0,212.36 L557.0,211.04 L558.0,210.11 L559.0,209.51 L560.0,209.13 L561.0,209.00 L562.0,209.19 L563.0,209.62 L564.0,210.31 L565.0,211.45 L566.0,213.06 L567.0,214.91 L568.0,216.85 L569.0,218.92 L570.0,221.24 L571.0,223.81 L572.0,226.50 L573.0,229.18 L574.0,231.72 L575.0,233.95 L576.0,235.87 L577.0,237.64 L578.0,239.34 L579.0,240.81 L580.0,241.85 L581.0,242.42 L582.0,242.73 L583.0,242.76 L584.0,242.43 L585.0,241.82 L586.0,241.09 L587.0,240.35 L588.0,239.67 L589.0,239.07 L590.0,238.52 L591.0,238.00 L592.0,237.49 L593.0,237.03 L594.0,236.72 L595.0,236.71 L596.0,236.94 L597.0,237.28 L598.0,237.68 L599.0,238.21 L600.0,239.12 L601.0,240.49 L602.0,242.14 L603.0,243.87 L604.0,245.62 L605.0,247.38 L606.0,249.15 L607.0,250.94 L608.0,252.73 L609.0,254.51 L610.0,256.23 L611.0,257.76 L612.0,259.02 L613.0,260.09 L614.0,261.10 L615.0,262.06 L616.0,262.82 L617.0,263.14 L618.0,262.93 L619.0,262.43 L620.0,261.84 L621.0,261.21 L622.0,260.47 L623.0,259.57 L624.0,258.54 L625.0,257.47 L626.0,256.39 L627.0,255.34 L628.0,254.37 L629.0,253.57 L630.0,252.90 L631.0,252.29 L632.0,251.69 L633.0,251.14 L634.0,250.76 L635.0,250.76 L636.0,251.13 L637.0,251.69 L638.0,252.34 L639.0,253.23 L640.0,254.58 L641.0,256.35 L642.0,258.31 L643.0,260.34 L644.0,262.50 L645.0,264.92 L646.0,267.57 L647.0,270.32 L648.0,273.07 L649.0,275.77 L650.0,278.37 L651.0,280.87 L652.0,283.34 L653.0,285.78 L654.0,288.13 L655.0,290.36 L656.0,292.46 L657.0,294.51 L658.0,296.51 L659.0,298.40 L660.0,300.10 L661.0,301.65 L662.0,303.14 L663.0,304.56 L664.0,305.81 L665.0,306.79 L666.0,307.53 L667.0,308.19 L668.0,308.80 L669.0,309.34 L670.0,309.75 L671.0,310.06 L672.0,310.33 L673.0,310.60 L674.0,310.85 L675.0,311.06 L676.0,311.20 L677.0,311.29 L678.0,311.35 L679.0,311.41 L680.0,311.47 L681.0,311.53 L682.0,311.58 L683.0,311.64 L684.0,311.68 L685.0,311.70 L686.0,311.71 L687.0,311.72 L688.0,311.73 L689.0,311.73 L690.0,311.74 L691.0,311.74 L692.0,311.75 L693.0,311.76 L694.0,311.76 L695.0,311.77 L696.0,311.78 L697.0,311.78 L698.0,311.79 L699.0,311.79 L700.0,311.80 L701.0,311.80 L702.0,311.80 L703.0,311.80 L704.0,311.80 L705.0,311.80 L706.0,311.80 L707.0,311.80 L708.0,311.80 L709.0,311.80 L710.0,311.80 L711.0,311.80 L712.0,311.80 L713.0,311.80 L714.0,311.80 L715.0,311.80 L716.0,311.80 L717.0,311.80 L718.0,311.80 L719.0,311.80 L720.0,311.80 L721.0,311.80 L722.0,311.80 L723.0,311.80 L724.0,311.80 L725.0,311.80 L726.0,311.80 L727.0,311.80 L728.0,311.80 L729.0,311.80 L730.0,311.80 L731.0,311.80 L732.0,311.80 L733.0,311.80 L734.0,311.80 L735.0,311.80 L736.0,311.80 L737.0,311.80 L738.0,311.80 L739.0,311.80 L740.0,311.80 L741.0,311.80 L742.0,311.80 L743.0,311.80 L744.0,311.80 L745.0,311.80 L746.0,311.80 L747.0,311.80 L748.0,311.80 L749.0,311.80 L750.0,311.80 L751.0,311.80 L752.0,311.80 L753.0,311.80 L754.0,311.80 L755.0,311.80 L756.0,311.80 L757.0,311.80 L758.0,311.80 L759.0,311.80 L760.0,311.80 L761.0,311.80 L762.0,311.80 L763.0,311.80 L764.0,311.80 L765.0,311.80 L766.0,311.80 L767.0,311.80 L768.0,311.80 L769.0,311.80 L770.0,311.80 L771.0,311.80 L772.0,311.80 L773.0,311.80 L774.0,311.80 L775.0,311.80 L776.0,311.80 L777.0,311.80 L778.0,311.80 L779.0,311.80 L780.0,311.80" fill="none" stroke="#0072BD" stroke-width="1.2" stroke-opacity="0.8" stroke-linejoin="round"/>
<polygon points="196.0,421.6 197.0,421.5 198.0,421.2 199.0,421.0 200.0,420.7 201.0,420.4 202.0,420.2 203.0,419.9 204.0,419.6 205.0,419.3 206.0,419.0 207.0,418.6 208.0,418.3 209.0,417.9 210.0,417.6 211.0,417.2 212.0,416.8 213.0,416.5 214.0,416.1 215.0,415.6 216.0,415.2 217.0,414.6 218.0,414.1 219.0,413.6 220.0,413.1 221.0,412.5 222.0,412.0 223.0,411.5 224.0,411.0 225.0,410.4 226.0,409.9 227.0,409.4 228.0,408.9 229.0,408.4 230.0,407.9 231.0,407.4 232.0,406.9 233.0,406.4 234.0,405.9 235.0,405.4 236.0,404.9 237.0,404.4 238.0,403.9 239.0,403.4 240.0,402.9 241.0,402.5 242.0,402.0 243.0,401.5 244.0,401.0 245.0,400.5 246.0,400.1 247.0,399.7 248.0,399.2 249.0,398.8 250.0,398.4 251.0,398.0 252.0,397.6 253.0,397.4 254.0,397.2 255.0,397.0 256.0,396.8 257.0,396.7 258.0,396.7 259.0,396.7 260.0,396.7 261.0,396.7 262.0,396.7 263.0,396.9 264.0,397.0 265.0,397.2 266.0,397.4 267.0,397.5 268.0,397.7 269.0,397.9 270.0,398.0 271.0,398.2 272.0,398.4 273.0,398.6 274.0,398.8 275.0,398.9 276.0,399.1 277.0,399.1 278.0,399.0 279.0,398.9 280.0,398.7 281.0,398.5 282.0,398.3 283.0,398.0 284.0,397.6 285.0,397.2 286.0,396.9 287.0,396.5 288.0,396.2 289.0,395.9 290.0,395.6 291.0,395.3 292.0,395.1 293.0,394.8 294.0,394.6 295.0,394.5 296.0,394.5 297.0,394.5 298.0,394.4 299.0,394.5 300.0,394.5 301.0,394.6 302.0,394.7 303.0,394.8 304.0,394.9 305.0,395.0 306.0,395.0 307.0,395.0 308.0,394.9 309.0,394.9 310.0,394.7 311.0,394.4 312.0,394.1 313.0,393.7 314.0,393.2 315.0,392.6 316.0,391.8 317.0,390.8 318.0,389.8 319.0,388.7 320.0,387.6 321.0,386.5 322.0,385.3 323.0,384.1 324.0,383.0 325.0,381.8 326.0,380.7 327.0,379.7 328.0,378.9 329.0,378.0 330.0,377.2 331.0,376.5 332.0,376.0 333.0,375.6 334.0,375.3 335.0,375.1 336.0,375.1 337.0,375.2 338.0,375.4 339.0,375.8 340.0,376.4 341.0,377.3 342.0,378.3 343.0,379.5 344.0,380.6 345.0,381.9 346.0,383.3 347.0,384.8 348.0,386.3 349.0,387.7 350.0,389.0 351.0,390.1 352.0,391.2 353.0,392.2 354.0,393.1 355.0,393.8 356.0,394.3 357.0,394.6 358.0,394.9 359.0,395.2 360.0,395.4 361.0,395.3 362.0,395.1 363.0,394.8 364.0,394.5 365.0,394.2 366.0,393.7 367.0,393.1 368.0,392.4 369.0,391.6 370.0,390.9 371.0,390.2 372.0,389.5 373.0,388.9 374.0,388.3 375.0,387.8 376.0,387.2 377.0,386.7 378.0,386.3 379.0,385.9 380.0,385.7 381.0,385.5 382.0,385.3 383.0,385.2 384.0,385.0 385.0,384.9 386.0,384.8 387.0,384.8 388.0,384.9 389.0,385.0 390.0,385.1 391.0,385.2 392.0,385.4 393.0,385.5 394.0,385.6 395.0,385.8 396.0,385.9 397.0,386.1 398.0,386.2 399.0,386.3 400.0,386.3 401.0,386.2 402.0,386.1 403.0,386.0 404.0,386.0 405.0,385.9 406.0,385.9 407.0,386.1 408.0,386.3 409.0,386.6 410.0,386.9 411.0,387.3 412.0,387.8 413.0,388.4 414.0,389.0 415.0,389.6 416.0,390.2 417.0,390.7 418.0,391.3 419.0,391.8 420.0,392.2 421.0,392.7 422.0,393.2 423.0,393.7 424.0,394.1 425.0,394.5 426.0,394.8 427.0,395.0 428.0,395.3 429.0,395.5 430.0,395.7 431.0,395.9 432.0,396.0 433.0,396.0 434.0,395.9 435.0,395.8 436.0,395.6 437.0,395.4 438.0,395.3 439.0,395.1 440.0,394.9 441.0,394.6 442.0,394.3 443.0,393.9 444.0,393.6 445.0,393.3 446.0,393.0 447.0,392.7 448.0,392.4 449.0,392.2 450.0,392.0 451.0,391.9 452.0,391.8 453.0,391.7 454.0,391.6 455.0,391.7 456.0,391.9 457.0,392.2 458.0,392.5 459.0,392.8 460.0,393.3 461.0,393.9 462.0,394.6 463.0,395.2 464.0,395.8 465.0,396.4 466.0,396.9 467.0,397.4 468.0,397.8 469.0,398.2 470.0,398.5 471.0,398.5 472.0,398.4 473.0,398.2 474.0,398.0 475.0,397.7 476.0,397.3 477.0,396.8 478.0,396.3 479.0,395.8 480.0,395.3 481.0,394.8 482.0,394.4 483.0,394.0 484.0,393.6 485.0,393.3 486.0,392.9 487.0,392.6 488.0,392.4 489.0,392.2 490.0,392.1 491.0,392.0 492.0,392.0 493.0,392.0 494.0,392.1 495.0,392.2 496.0,392.4 497.0,392.5 498.0,392.7 499.0,392.8 500.0,392.9 501.0,393.0 502.0,393.1 503.0,393.2 504.0,393.2 505.0,393.2 506.0,393.1 507.0,393.0 508.0,392.8 509.0,392.5 510.0,392.3 511.0,392.1 512.0,391.9 513.0,391.6 514.0,391.4 515.0,391.1 516.0,390.9 517.0,390.8 518.0,390.8 519.0,390.9 520.0,391.1 521.0,391.3 522.0,391.6 523.0,392.0 524.0,392.5 525.0,393.0 526.0,393.6 527.0,394.1 528.0,394.7 529.0,395.2 530.0,395.7 531.0,396.1 532.0,396.6 533.0,397.0 534.0,397.3 535.0,397.5 536.0,397.6 537.0,397.7 538.0,397.7 539.0,397.5 540.0,397.1 541.0,396.7 542.0,396.1 543.0,395.3 544.0,394.3 545.0,393.1 546.0,392.0 547.0,390.8 548.0,389.5 549.0,388.2 550.0,386.8 551.0,385.5 552.0,384.3 553.0,383.3 554.0,382.4 555.0,381.7 556.0,381.0 557.0,380.4 558.0,379.9 559.0,379.7 560.0,379.5 561.0,379.4 562.0,379.5 563.0,379.7 564.0,380.0 565.0,380.6 566.0,381.3 567.0,382.1 568.0,383.0 569.0,384.0 570.0,385.0 571.0,386.2 572.0,387.4 573.0,388.7 574.0,389.8 575.0,390.8 576.0,391.7 577.0,392.5 578.0,393.3 579.0,394.0 580.0,394.4 581.0,394.7 582.0,394.8 583.0,394.9 584.0,394.7 585.0,394.4 586.0,394.1 587.0,393.8 588.0,393.4 589.0,393.2 590.0,392.9 591.0,392.7 592.0,392.5 593.0,392.2 594.0,392.1 595.0,392.1 596.0,392.2 597.0,392.4 598.0,392.5 599.0,392.8 600.0,393.2 601.0,393.8 602.0,394.6 603.0,395.4 604.0,396.2 605.0,397.0 606.0,397.8 607.0,398.6 608.0,399.4 609.0,400.2 610.0,401.0 611.0,401.7 612.0,402.3 613.0,402.8 614.0,403.2 615.0,403.7 616.0,404.0 617.0,404.2 618.0,404.1 619.0,403.8 620.0,403.6 621.0,403.3 622.0,402.9 623.0,402.5 624.0,402.1 625.0,401.6 626.0,401.1 627.0,400.6 628.0,400.2 629.0,399.8 630.0,399.5 631.0,399.2 632.0,398.9 633.0,398.7 634.0,398.5 635.0,398.5 636.0,398.7 637.0,398.9 638.0,399.2 639.0,399.6 640.0,400.3 641.0,401.1 642.0,402.0 643.0,402.9 644.0,403.9 645.0,405.0 646.0,406.2 647.0,407.4 648.0,408.7 649.0,409.9 650.0,411.1 651.0,412.3 652.0,413.4 653.0,414.5 654.0,415.6 655.0,416.6 656.0,417.6 657.0,418.5 658.0,419.4 659.0,420.3 660.0,421.1 661.0,421.8 662.0,422.4 663.0,423.1 664.0,423.7 665.0,424.1 666.0,424.5 667.0,424.7 668.0,425.0 669.0,425.3 670.0,425.5 671.0,425.6 672.0,425.7 673.0,425.8 674.0,425.9 675.0,425.9 676.0,425.9 677.0,425.9 678.0,425.9 679.0,425.9 680.0,425.9 681.0,425.9 682.0,425.9 683.0,425.9 684.0,425.9 685.0,425.9 686.0,425.9 687.0,425.9 688.0,425.9 689.0,425.9 690.0,425.9 691.0,425.9 692.0,425.9 693.0,425.9 694.0,425.9 695.0,425.9 696.0,425.9 697.0,425.9 698.0,425.9 699.0,425.9 700.0,425.9 701.0,425.9 702.0,425.9 703.0,425.9 704.0,425.9 705.0,425.9 706.0,425.9 707.0,425.9 708.0,425.9 709.0,425.9 710.0,425.9 711.0,425.9 712.0,425.9 713.0,425.9 714.0,425.9 715.0,425.9 716.0,425.9 717.0,425.9 718.0,425.9 719.0,425.9 720.0,425.9 721.0,425.9 722.0,425.9 723.0,425.9 724.0,425.9 725.0,425.9 726.0,425.9 727.0,425.9 728.0,425.9 729.0,425.9 730.0,425.9 731.0,425.9 732.0,425.9 733.0,425.9 734.0,425.9 735.0,425.9 736.0,425.9 737.0,425.9 738.0,425.9 739.0,425.9 740.0,425.9 741.0,425.9 742.0,425.9 743.0,425.9 744.0,425.9 745.0,425.9 746.0,425.9 747.0,425.9 748.0,425.9 749.0,425.9 750.0,425.9 751.0,425.9 752.0,425.9 753.0,425.9 754.0,425.9 755.0,425.9 756.0,425.9 757.0,425.9 758.0,425.9 759.0,425.9 760.0,425.9 761.0,425.9 762.0,425.9 763.0,425.9 764.0,425.9 765.0,425.9 766.0,425.9 767.0,425.9 768.0,425.9 769.0,425.9 770.0,425.9 771.0,425.9 772.0,425.9 773.0,425.9 774.0,425.9 775.0,425.9 776.0,425.9 777.0,425.9 778.0,425.9 779.0,425.9 780.0,425.9 780.5,426.9 779.5,426.9 778.5,426.9 777.5,426.9 776.5,426.9 775.5,426.9 774.5,426.9 773.5,426.9 772.5,426.9 771.5,426.9 770.5,426.9 769.5,426.9 768.5,426.9 767.5,426.9 766.5,426.9 765.5,426.9 764.5,426.9 763.5,426.9 762.5,426.9 761.5,426.9 760.5,426.9 759.5,426.9 758.5,426.9 757.5,426.9 756.5,426.9 755.5,426.9 754.5,426.9 753.5,426.9 752.5,426.9 751.5,426.9 750.5,426.9 749.5,426.9 748.5,426.9 747.5,426.9 746.5,426.9 745.5,426.9 744.5,426.9 743.5,426.9 742.5,426.9 741.5,426.9 740.5,426.9 739.5,426.9 738.5,426.9 737.5,426.9 736.5,426.9 735.5,426.9 734.5,426.9 733.5,426.9 732.5,426.9 731.5,426.9 730.5,426.9 729.5,426.9 728.5,426.9 727.5,426.9 726.5,426.9 725.5,426.9 724.5,426.9 723.5,426.9 722.5,426.9 721.5,426.9 720.5,426.9 719.5,426.9 718.5,426.9 717.5,426.9 716.5,426.9 715.5,426.9 714.5,426.9 713.5,426.9 712.5,426.9 711.5,426.9 710.5,426.9 709.5,426.9 708.5,426.9 707.5,426.9 706.5,426.9 705.5,426.9 704.5,426.9 703.5,426.9 702.5,426.9 701.5,426.9 700.5,426.9 699.5,426.9 698.5,426.9 697.5,426.9 696.5,426.9 695.5,426.9 694.5,426.9 693.5,426.9 692.5,426.9 691.5,426.9 690.5,426.9 689.5,426.9 688.5,426.9 687.5,426.9 686.5,426.9 685.5,426.9 684.5,426.9 683.5,426.9 682.5,426.9 681.5,426.9 680.5,426.9 679.5,426.9 678.5,426.9 677.5,426.9 676.5,426.9 675.5,426.9 674.5,426.9 673.5,426.9 672.5,427.0 671.5,427.1 670.5,427.3 669.5,427.4 668.5,427.6 667.5,427.9 666.5,428.2 665.5,428.5 664.5,428.9 663.5,429.4 662.5,430.0 661.5,430.7 660.5,431.4 659.5,432.1 658.5,432.9 657.5,433.8 656.5,434.8 655.5,435.7 654.5,436.7 653.5,437.7 652.5,438.8 651.5,440.0 650.5,441.1 649.5,442.3 648.5,443.5 647.5,444.7 646.5,446.0 645.5,447.2 644.5,448.4 643.5,449.4 642.5,450.4 641.5,451.3 640.5,452.2 639.5,452.9 638.5,453.4 637.5,453.7 636.5,454.0 635.5,454.2 634.5,454.3 633.5,454.2 632.5,454.0 631.5,453.7 630.5,453.5 629.5,453.2 628.5,452.8 627.5,452.4 626.5,452.0 625.5,451.5 624.5,451.0 623.5,450.5 622.5,450.0 621.5,449.7 620.5,449.4 619.5,449.1 618.5,448.8 617.5,448.7 616.5,448.7 615.5,448.9 614.5,449.3 613.5,449.8 612.5,450.3 611.5,450.8 610.5,451.4 609.5,452.2 608.5,453.0 607.5,453.8 606.5,454.6 605.5,455.4 604.5,456.2 603.5,457.0 602.5,457.8 601.5,458.6 600.5,459.3 599.5,459.8 598.5,460.2 597.5,460.4 596.5,460.5 595.5,460.7 594.5,460.7 593.5,460.6 592.5,460.5 591.5,460.2 590.5,460.0 589.5,459.8 588.5,459.5 587.5,459.2 586.5,458.9 585.5,458.5 584.5,458.2 583.5,458.0 582.5,457.9 581.5,458.0 580.5,458.2 579.5,458.6 578.5,459.1 577.5,459.9 576.5,460.7 575.5,461.5 574.5,462.5 573.5,463.6 572.5,464.8 571.5,466.0 570.5,467.2 569.5,468.3 568.5,469.3 567.5,470.2 566.5,471.1 565.5,471.9 564.5,472.5 563.5,472.9 562.5,473.2 561.5,473.3 560.5,473.4 559.5,473.2 558.5,473.0 557.5,472.7 556.5,472.2 555.5,471.5 554.5,470.7 553.5,470.0 552.5,469.1 551.5,468.0 550.5,466.7 549.5,465.3 548.5,463.9 547.5,462.6 546.5,461.4 545.5,460.2 544.5,459.1 543.5,458.0 542.5,457.1 541.5,456.4 540.5,455.9 539.5,455.5 538.5,455.2 537.5,455.1 536.5,455.1 535.5,455.2 534.5,455.4 533.5,455.6 532.5,456.0 531.5,456.4 530.5,456.9 529.5,457.4 528.5,457.9 527.5,458.4 526.5,458.9 525.5,459.5 524.5,460.0 523.5,460.5 522.5,461.0 521.5,461.3 520.5,461.6 519.5,461.8 518.5,462.0 517.5,462.1 516.5,462.0 515.5,461.8 514.5,461.5 513.5,461.3 512.5,461.1 511.5,460.8 510.5,460.6 509.5,460.4 508.5,460.1 507.5,459.9 506.5,459.7 505.5,459.6 504.5,459.5 503.5,459.6 502.5,459.7 501.5,459.8 500.5,459.8 499.5,459.9 498.5,460.1 497.5,460.2 496.5,460.3 495.5,460.5 494.5,460.6 493.5,460.8 492.5,460.8 491.5,460.8 490.5,460.7 489.5,460.6 488.5,460.5 487.5,460.3 486.5,460.0 485.5,459.7 484.5,459.3 483.5,459.0 482.5,458.6 481.5,458.2 480.5,457.7 479.5,457.2 478.5,456.7 477.5,456.2 476.5,455.7 475.5,455.3 474.5,455.0 473.5,454.7 472.5,454.5 471.5,454.3 470.5,454.3 469.5,454.5 468.5,454.8 467.5,455.2 466.5,455.6 465.5,456.1 464.5,456.7 463.5,457.3 462.5,457.9 461.5,458.6 460.5,459.2 459.5,459.7 458.5,460.2 457.5,460.5 456.5,460.8 455.5,461.0 454.5,461.2 453.5,461.2 452.5,461.1 451.5,461.0 450.5,460.8 449.5,460.7 448.5,460.5 447.5,460.3 446.5,460.0 445.5,459.7 444.5,459.3 443.5,459.0 442.5,458.7 441.5,458.4 440.5,458.1 439.5,457.8 438.5,457.6 437.5,457.4 436.5,457.3 435.5,457.1 434.5,457.0 433.5,456.8 432.5,456.8 431.5,456.8 430.5,457.0 429.5,457.2 428.5,457.4 427.5,457.7 426.5,457.9 425.5,458.1 424.5,458.5 423.5,458.9 422.5,459.4 421.5,459.8 420.5,460.3 419.5,460.8 418.5,461.3 417.5,461.8 416.5,462.3 415.5,462.9 414.5,463.5 413.5,464.1 412.5,464.7 411.5,465.3 410.5,465.7 409.5,466.1 408.5,466.3 407.5,466.6 406.5,466.8 405.5,466.9 404.5,466.9 403.5,466.8 402.5,466.7 401.5,466.6 400.5,466.6 399.5,466.5 398.5,466.5 397.5,466.6 396.5,466.8 395.5,466.9 394.5,467.1 393.5,467.3 392.5,467.4 391.5,467.5 390.5,467.6 389.5,467.7 388.5,467.8 387.5,467.9 386.5,468.0 385.5,468.0 384.5,467.9 383.5,467.7 382.5,467.6 381.5,467.4 380.5,467.2 379.5,467.0 378.5,466.7 377.5,466.3 376.5,465.8 375.5,465.3 374.5,464.7 373.5,464.2 372.5,463.6 371.5,463.0 370.5,462.3 369.5,461.5 368.5,460.8 367.5,460.1 366.5,459.4 365.5,458.9 364.5,458.5 363.5,458.1 362.5,457.8 361.5,457.5 360.5,457.4 359.5,457.5 358.5,457.7 357.5,458.0 356.5,458.3 355.5,458.7 354.5,459.3 353.5,460.1 352.5,461.1 351.5,462.1 350.5,463.2 349.5,464.4 348.5,465.8 347.5,467.3 346.5,468.7 345.5,470.2 344.5,471.5 343.5,472.8 342.5,473.9 341.5,475.0 340.5,476.0 339.5,476.8 338.5,477.2 337.5,477.5 336.5,477.7 335.5,477.7 334.5,477.6 333.5,477.3 332.5,477.0 331.5,476.5 330.5,475.9 329.5,475.2 328.5,474.4 327.5,473.5 326.5,472.6 325.5,471.6 324.5,470.4 323.5,469.2 322.5,468.1 321.5,466.9 320.5,465.7 319.5,464.6 318.5,463.5 317.5,462.5 316.5,461.5 315.5,460.6 314.5,459.9 313.5,459.4 312.5,458.9 311.5,458.6 310.5,458.2 309.5,458.0 308.5,457.9 307.5,457.9 306.5,457.8 305.5,457.8 304.5,457.8 303.5,457.9 302.5,458.0 301.5,458.1 300.5,458.2 299.5,458.3 298.5,458.3 297.5,458.3 296.5,458.3 295.5,458.3 294.5,458.2 293.5,458.1 292.5,457.9 291.5,457.6 290.5,457.3 289.5,457.1 288.5,456.8 287.5,456.5 286.5,456.1 285.5,455.8 284.5,455.4 283.5,455.0 282.5,454.7 281.5,454.4 280.5,454.2 279.5,454.0 278.5,453.8 277.5,453.7 276.5,453.7 275.5,453.8 274.5,453.9 273.5,454.1 272.5,454.3 271.5,454.5 270.5,454.7 269.5,454.8 268.5,455.0 267.5,455.2 266.5,455.4 265.5,455.5 264.5,455.7 263.5,455.9 262.5,456.0 261.5,456.1 260.5,456.1 259.5,456.1 258.5,456.1 257.5,456.1 256.5,456.0 255.5,455.9 254.5,455.7 253.5,455.5 252.5,455.3 251.5,455.0 250.5,454.6 249.5,454.2 248.5,453.8 247.5,453.4 246.5,452.9 245.5,452.5 244.5,452.0 243.5,451.6 242.5,451.1 241.5,450.6 240.5,450.1 239.5,449.6 238.5,449.1 237.5,448.6 236.5,448.1 235.5,447.6 234.5,447.1 233.5,446.6 232.5,446.1 231.5,445.6 230.5,445.1 229.5,444.6 228.5,444.1 227.5,443.6 226.5,443.1 225.5,442.6 224.5,442.1 223.5,441.6 222.5,441.1 221.5,440.5 220.5,440.0 219.5,439.5 218.5,438.9 217.5,438.4 216.5,437.9 215.5,437.4 214.5,436.9 213.5,436.5 212.5,436.2 211.5,435.8 210.5,435.4 209.5,435.1 208.5,434.7 207.5,434.3 206.5,434.0 205.5,433.6 204.5,433.3 203.5,433.0 202.5,432.8 201.5,432.5 200.5,432.2 199.5,432.0 198.5,431.7 197.5,431.5 196.5,431.2" fill="#0072BD" fill-opacity="0.4"/>
<polygon points="196.0,422.8 197.0,422.7 198.0,422.5 199.0,422.3 200.0,422.1 201.0,421.9 202.0,421.7 203.0,421.5 204.0,421.3 205.0,421.1 206.0,420.8 207.0,420.6 208.0,420.3 209.0,420.0 210.0,419.7 211.0,419.5 212.0,419.2 213.0,418.9 214.0,418.6 215.0,418.3 216.0,417.9 217.0,417.5 218.0,417.2 219.0,416.8 220.0,416.4 221.0,416.0 222.0,415.6 223.0,415.2 224.0,414.8 225.0,414.4 226.0,414.0 227.0,413.6 228.0,413.3 229.0,412.9 230.0,412.5 231.0,412.1 232.0,411.7 233.0,411.4 234.0,411.0 235.0,410.6 236.0,410.2 237.0,409.9 238.0,409.5 239.0,409.1 240.0,408.7 241.0,408.4 242.0,408.0 243.0,407.6 244.0,407.3 245.0,406.9 246.0,406.6 247.0,406.3 248.0,406.0 249.0,405.6 250.0,405.3 251.0,405.0 252.0,404.8 253.0,404.6 254.0,404.4 255.0,404.3 256.0,404.2 257.0,404.1 258.0,404.0 259.0,404.0 260.0,404.0 261.0,404.0 262.0,404.1 263.0,404.2 264.0,404.3 265.0,404.4 266.0,404.5 267.0,404.7 268.0,404.8 269.0,404.9 270.0,405.1 271.0,405.2 272.0,405.3 273.0,405.5 274.0,405.6 275.0,405.7 276.0,405.8 277.0,405.9 278.0,405.8 279.0,405.7 280.0,405.6 281.0,405.4 282.0,405.2 283.0,405.0 284.0,404.7 285.0,404.4 286.0,404.2 287.0,403.9 288.0,403.7 289.0,403.4 290.0,403.2 291.0,403.0 292.0,402.8 293.0,402.6 294.0,402.5 295.0,402.4 296.0,402.4 297.0,402.4 298.0,402.4 299.0,402.4 300.0,402.4 301.0,402.5 302.0,402.6 303.0,402.6 304.0,402.7 305.0,402.8 306.0,402.8 307.0,402.7 308.0,402.7 309.0,402.7 310.0,402.5 311.0,402.3 312.0,402.1 313.0,401.8 314.0,401.4 315.0,401.0 316.0,400.4 317.0,399.6 318.0,398.8 319.0,398.0 320.0,397.2 321.0,396.4 322.0,395.5 323.0,394.6 324.0,393.7 325.0,392.8 326.0,392.0 327.0,391.3 328.0,390.6 329.0,390.0 330.0,389.4 331.0,388.9 332.0,388.5 333.0,388.2 334.0,388.0 335.0,387.8 336.0,387.8 337.0,387.8 338.0,388.0 339.0,388.3 340.0,388.7 341.0,389.4 342.0,390.2 343.0,391.1 344.0,392.0 345.0,392.9 346.0,394.0 347.0,395.1 348.0,396.2 349.0,397.3 350.0,398.3 351.0,399.1 352.0,399.9 353.0,400.7 354.0,401.3 355.0,401.9 356.0,402.2 357.0,402.5 358.0,402.7 359.0,402.9 360.0,403.0 361.0,403.0 362.0,402.9 363.0,402.6 364.0,402.4 365.0,402.1 366.0,401.8 367.0,401.3 368.0,400.8 369.0,400.2 370.0,399.7 371.0,399.1 372.0,398.6 373.0,398.2 374.0,397.7 375.0,397.3 376.0,396.9 377.0,396.5 378.0,396.2 379.0,395.9 380.0,395.8 381.0,395.6 382.0,395.5 383.0,395.4 384.0,395.2 385.0,395.1 386.0,395.1 387.0,395.1 388.0,395.2 389.0,395.3 390.0,395.3 391.0,395.4 392.0,395.5 393.0,395.6 394.0,395.7 395.0,395.8 396.0,395.9 397.0,396.1 398.0,396.2 399.0,396.2 400.0,396.2 401.0,396.1 402.0,396.1 403.0,396.0 404.0,396.0 405.0,395.9 406.0,395.9 407.0,396.1 408.0,396.2 409.0,396.4 410.0,396.7 411.0,397.0 412.0,397.3 413.0,397.8 414.0,398.2 415.0,398.7 416.0,399.1 417.0,399.6 418.0,400.0 419.0,400.3 420.0,400.7 421.0,401.1 422.0,401.4 423.0,401.8 424.0,402.1 425.0,402.4 426.0,402.6 427.0,402.8 428.0,403.0 429.0,403.1 430.0,403.3 431.0,403.5 432.0,403.5 433.0,403.5 434.0,403.4 435.0,403.3 436.0,403.2 437.0,403.1 438.0,403.0 439.0,402.8 440.0,402.7 441.0,402.4 442.0,402.2 443.0,402.0 444.0,401.7 445.0,401.5 446.0,401.2 447.0,401.0 448.0,400.8 449.0,400.7 450.0,400.5 451.0,400.4 452.0,400.3 453.0,400.2 454.0,400.2 455.0,400.3 456.0,400.4 457.0,400.6 458.0,400.9 459.0,401.1 460.0,401.5 461.0,402.0 462.0,402.4 463.0,402.9 464.0,403.4 465.0,403.8 466.0,404.2 467.0,404.6 468.0,404.9 469.0,405.2 470.0,405.4 471.0,405.4 472.0,405.3 473.0,405.2 474.0,405.0 475.0,404.8 476.0,404.5 477.0,404.2 478.0,403.8 479.0,403.4 480.0,403.0 481.0,402.6 482.0,402.3 483.0,402.0 484.0,401.7 485.0,401.5 486.0,401.2 487.0,401.0 488.0,400.8 489.0,400.7 490.0,400.6 491.0,400.5 492.0,400.5 493.0,400.5 494.0,400.6 495.0,400.7 496.0,400.8 497.0,400.9 498.0,401.0 499.0,401.1 500.0,401.2 501.0,401.3 502.0,401.3 503.0,401.4 504.0,401.4 505.0,401.4 506.0,401.4 507.0,401.2 508.0,401.1 509.0,400.9 510.0,400.8 511.0,400.6 512.0,400.4 513.0,400.2 514.0,400.0 515.0,399.9 516.0,399.7 517.0,399.6 518.0,399.6 519.0,399.7 520.0,399.8 521.0,400.0 522.0,400.2 523.0,400.5 524.0,400.9 525.0,401.3 526.0,401.7 527.0,402.1 528.0,402.5 529.0,402.9 530.0,403.3 531.0,403.6 532.0,404.0 533.0,404.3 534.0,404.5 535.0,404.6 536.0,404.7 537.0,404.8 538.0,404.8 539.0,404.6 540.0,404.4 541.0,404.0 542.0,403.6 543.0,403.0 544.0,402.2 545.0,401.4 546.0,400.5 547.0,399.6 548.0,398.6 549.0,397.6 550.0,396.6 551.0,395.6 552.0,394.7 553.0,393.9 554.0,393.3 555.0,392.7 556.0,392.2 557.0,391.7 558.0,391.4 559.0,391.2 560.0,391.1 561.0,391.0 562.0,391.1 563.0,391.3 564.0,391.5 565.0,391.9 566.0,392.4 567.0,393.1 568.0,393.7 569.0,394.5 570.0,395.3 571.0,396.1 572.0,397.1 573.0,398.0 574.0,398.9 575.0,399.6 576.0,400.3 577.0,400.9 578.0,401.5 579.0,402.0 580.0,402.3 581.0,402.5 582.0,402.6 583.0,402.7 584.0,402.5 585.0,402.3 586.0,402.1 587.0,401.8 588.0,401.6 589.0,401.4 590.0,401.2 591.0,401.0 592.0,400.8 593.0,400.7 594.0,400.6 595.0,400.6 596.0,400.7 597.0,400.8 598.0,400.9 599.0,401.1 600.0,401.4 601.0,401.9 602.0,402.4 603.0,403.0 604.0,403.6 605.0,404.2 606.0,404.9 607.0,405.5 608.0,406.1 609.0,406.7 610.0,407.3 611.0,407.8 612.0,408.3 613.0,408.6 614.0,409.0 615.0,409.3 616.0,409.6 617.0,409.7 618.0,409.6 619.0,409.4 620.0,409.2 621.0,409.0 622.0,408.7 623.0,408.4 624.0,408.1 625.0,407.7 626.0,407.3 627.0,407.0 628.0,406.7 629.0,406.4 630.0,406.1 631.0,405.9 632.0,405.7 633.0,405.5 634.0,405.4 635.0,405.4 636.0,405.5 637.0,405.7 638.0,406.0 639.0,406.3 640.0,406.7 641.0,407.3 642.0,408.0 643.0,408.7 644.0,409.4 645.0,410.3 646.0,411.2 647.0,412.1 648.0,413.1 649.0,414.0 650.0,414.9 651.0,415.8 652.0,416.6 653.0,417.5 654.0,418.3 655.0,419.0 656.0,419.7 657.0,420.5 658.0,421.1 659.0,421.8 660.0,422.4 661.0,422.9 662.0,423.4 663.0,423.9 664.0,424.3 665.0,424.7 666.0,424.9 667.0,425.2 668.0,425.4 669.0,425.6 670.0,425.7 671.0,425.8 672.0,425.9 673.0,426.0 674.0,426.0 675.0,426.0 676.0,426.0 677.0,426.0 678.0,426.0 679.0,426.0 680.0,426.0 681.0,426.0 682.0,426.0 683.0,426.0 684.0,426.0 685.0,426.0 686.0,426.0 687.0,426.0 688.0,426.0 689.0,426.0 690.0,426.0 691.0,426.0 692.0,426.0 693.0,426.0 694.0,426.0 695.0,426.0 696.0,426.0 697.0,426.0 698.0,426.0 699.0,426.0 700.0,426.0 701.0,426.0 702.0,426.0 703.0,426.0 704.0,426.0 705.0,426.0 706.0,426.0 707.0,426.0 708.0,426.0 709.0,426.0 710.0,426.0 711.0,426.0 712.0,426.0 713.0,426.0 714.0,426.0 715.0,426.0 716.0,426.0 717.0,426.0 718.0,426.0 719.0,426.0 720.0,426.0 721.0,426.0 722.0,426.0 723.0,426.0 724.0,426.0 725.0,426.0 726.0,426.0 727.0,426.0 728.0,426.0 729.0,426.0 730.0,426.0 731.0,426.0 732.0,426.0 733.0,426.0 734.0,426.0 735.0,426.0 736.0,426.0 737.0,426.0 738.0,426.0 739.0,426.0 740.0,426.0 741.0,426.0 742.0,426.0 743.0,426.0 744.0,426.0 745.0,426.0 746.0,426.0 747.0,426.0 748.0,426.0 749.0,426.0 750.0,426.0 751.0,426.0 752.0,426.0 753.0,426.0 754.0,426.0 755.0,426.0 756.0,426.0 757.0,426.0 758.0,426.0 759.0,426.0 760.0,426.0 761.0,426.0 762.0,426.0 763.0,426.0 764.0,426.0 765.0,426.0 766.0,426.0 767.0,426.0 768.0,426.0 769.0,426.0 770.0,426.0 771.0,426.0 772.0,426.0 773.0,426.0 774.0,426.0 775.0,426.0 776.0,426.0 777.0,426.0 778.0,426.0 779.0,426.0 780.0,426.0 780.5,426.8 779.5,426.8 778.5,426.8 777.5,426.8 776.5,426.8 775.5,426.8 774.5,426.8 773.5,426.8 772.5,426.8 771.5,426.8 770.5,426.8 769.5,426.8 768.5,426.8 767.5,426.8 766.5,426.8 765.5,426.8 764.5,426.8 763.5,426.8 762.5,426.8 761.5,426.8 760.5,426.8 759.5,426.8 758.5,426.8 757.5,426.8 756.5,426.8 755.5,426.8 754.5,426.8 753.5,426.8 752.5,426.8 751.5,426.8 750.5,426.8 749.5,426.8 748.5,426.8 747.5,426.8 746.5,426.8 745.5,426.8 744.5,426.8 743.5,426.8 742.5,426.8 741.5,426.8 740.5,426.8 739.5,426.8 738.5,426.8 737.5,426.8 736.5,426.8 735.5,426.8 734.5,426.8 733.5,426.8 732.5,426.8 731.5,426.8 730.5,426.8 729.5,426.8 728.5,426.8 727.5,426.8 726.5,426.8 725.5,426.8 724.5,426.8 723.5,426.8 722.5,426.8 721.5,426.8 720.5,426.8 719.5,426.8 718.5,426.8 717.5,426.8 716.5,426.8 715.5,426.8 714.5,426.8 713.5,426.8 712.5,426.8 711.5,426.8 710.5,426.8 709.5,426.8 708.5,426.8 707.5,426.8 706.5,426.8 705.5,426.8 704.5,426.8 703.5,426.8 702.5,426.8 701.5,426.8 700.5,426.8 699.5,426.8 698.5,426.8 697.5,426.8 696.5,426.8 695.5,426.8 694.5,426.8 693.5,426.8 692.5,426.8 691.5,426.8 690.5,426.8 689.5,426.8 688.5,426.8 687.5,426.8 686.5,426.8 685.5,426.8 684.5,426.8 683.5,426.8 682.5,426.8 681.5,426.8 680.5,426.8 679.5,426.8 678.5,426.8 677.5,426.8 676.5,426.8 675.5,426.8 674.5,426.8 673.5,426.8 672.5,426.9 671.5,426.9 670.5,427.0 669.5,427.2 668.5,427.3 667.5,427.5 666.5,427.8 665.5,428.0 664.5,428.3 663.5,428.7 662.5,429.1 661.5,429.6 660.5,430.2 659.5,430.7 658.5,431.3 657.5,432.0 656.5,432.7 655.5,433.4 654.5,434.1 653.5,434.9 652.5,435.8 651.5,436.6 650.5,437.5 649.5,438.3 648.5,439.3 647.5,440.2 646.5,441.1 645.5,442.1 644.5,442.9 643.5,443.7 642.5,444.4 641.5,445.1 640.5,445.8 639.5,446.3 638.5,446.7 637.5,447.0 636.5,447.2 635.5,447.3 634.5,447.4 633.5,447.3 632.5,447.2 631.5,447.0 630.5,446.8 629.5,446.5 628.5,446.3 627.5,446.0 626.5,445.6 625.5,445.3 624.5,444.9 623.5,444.5 622.5,444.2 621.5,443.9 620.5,443.7 619.5,443.5 618.5,443.3 617.5,443.2 616.5,443.2 615.5,443.4 614.5,443.7 613.5,444.0 612.5,444.4 611.5,444.8 610.5,445.2 609.5,445.8 608.5,446.4 607.5,447.0 606.5,447.6 605.5,448.2 604.5,448.9 603.5,449.5 602.5,450.1 601.5,450.6 600.5,451.2 599.5,451.6 598.5,451.8 597.5,452.0 596.5,452.1 595.5,452.2 594.5,452.2 593.5,452.2 592.5,452.0 591.5,451.9 590.5,451.7 589.5,451.5 588.5,451.3 587.5,451.1 586.5,450.8 585.5,450.6 584.5,450.4 583.5,450.2 582.5,450.1 581.5,450.2 580.5,450.3 579.5,450.6 578.5,451.1 577.5,451.6 576.5,452.2 575.5,452.8 574.5,453.5 573.5,454.4 572.5,455.3 571.5,456.2 570.5,457.1 569.5,458.0 568.5,458.7 567.5,459.4 566.5,460.0 565.5,460.6 564.5,461.1 563.5,461.4 562.5,461.6 561.5,461.7 560.5,461.7 559.5,461.6 558.5,461.5 557.5,461.2 556.5,460.8 555.5,460.3 554.5,459.8 553.5,459.2 552.5,458.5 551.5,457.7 550.5,456.7 549.5,455.7 548.5,454.7 547.5,453.7 546.5,452.7 545.5,451.9 544.5,451.0 543.5,450.2 542.5,449.5 541.5,449.0 540.5,448.6 539.5,448.3 538.5,448.1 537.5,448.0 536.5,448.0 535.5,448.1 534.5,448.2 533.5,448.4 532.5,448.7 531.5,449.0 530.5,449.4 529.5,449.7 528.5,450.1 527.5,450.5 526.5,450.9 525.5,451.3 524.5,451.7 523.5,452.1 522.5,452.4 521.5,452.7 520.5,452.9 519.5,453.0 518.5,453.2 517.5,453.2 516.5,453.2 515.5,453.0 514.5,452.8 513.5,452.7 512.5,452.5 511.5,452.3 510.5,452.1 509.5,452.0 508.5,451.8 507.5,451.6 506.5,451.5 505.5,451.4 504.5,451.3 503.5,451.4 502.5,451.4 501.5,451.5 500.5,451.6 499.5,451.7 498.5,451.7 497.5,451.8 496.5,452.0 495.5,452.1 494.5,452.2 493.5,452.3 492.5,452.3 491.5,452.3 490.5,452.2 489.5,452.2 488.5,452.1 487.5,451.9 486.5,451.7 485.5,451.5 484.5,451.2 483.5,450.9 482.5,450.6 481.5,450.3 480.5,450.0 479.5,449.6 478.5,449.2 477.5,448.8 476.5,448.5 475.5,448.1 474.5,447.9 473.5,447.7 472.5,447.5 471.5,447.4 470.5,447.4 469.5,447.5 468.5,447.8 467.5,448.1 466.5,448.4 465.5,448.8 464.5,449.2 463.5,449.7 462.5,450.1 461.5,450.6 460.5,451.1 459.5,451.5 458.5,451.8 457.5,452.0 456.5,452.3 455.5,452.4 454.5,452.6 453.5,452.6 452.5,452.5 451.5,452.4 450.5,452.3 449.5,452.2 448.5,452.1 447.5,451.9 446.5,451.7 445.5,451.4 444.5,451.2 443.5,451.0 442.5,450.7 441.5,450.5 440.5,450.2 439.5,450.0 438.5,449.9 437.5,449.8 436.5,449.6 435.5,449.5 434.5,449.4 433.5,449.3 432.5,449.3 431.5,449.3 430.5,449.4 429.5,449.6 428.5,449.7 427.5,449.9 426.5,450.1 425.5,450.3 424.5,450.5 423.5,450.9 422.5,451.2 421.5,451.6 420.5,451.9 419.5,452.3 418.5,452.7 417.5,453.0 416.5,453.5 415.5,453.9 414.5,454.3 413.5,454.8 412.5,455.2 411.5,455.7 410.5,456.0 409.5,456.2 408.5,456.5 407.5,456.7 406.5,456.8 405.5,456.9 404.5,456.9 403.5,456.8 402.5,456.8 401.5,456.7 400.5,456.6 399.5,456.6 398.5,456.6 397.5,456.7 396.5,456.8 395.5,456.9 394.5,457.0 393.5,457.2 392.5,457.2 391.5,457.3 390.5,457.4 389.5,457.5 388.5,457.6 387.5,457.6 386.5,457.7 385.5,457.7 384.5,457.6 383.5,457.5 382.5,457.4 381.5,457.2 380.5,457.1 379.5,457.0 378.5,456.8 377.5,456.5 376.5,456.1 375.5,455.7 374.5,455.3 373.5,454.8 372.5,454.4 371.5,453.9 370.5,453.4 369.5,452.8 368.5,452.3 367.5,451.8 366.5,451.3 365.5,450.8 364.5,450.5 363.5,450.3 362.5,450.0 361.5,449.8 360.5,449.7 359.5,449.8 358.5,450.0 357.5,450.2 356.5,450.4 355.5,450.7 354.5,451.2 353.5,451.8 352.5,452.5 351.5,453.3 350.5,454.1 349.5,455.0 348.5,456.1 347.5,457.2 346.5,458.3 345.5,459.4 344.5,460.4 343.5,461.3 342.5,462.2 341.5,463.0 340.5,463.8 339.5,464.3 338.5,464.7 337.5,464.9 336.5,465.0 335.5,465.0 334.5,464.9 333.5,464.7 332.5,464.5 331.5,464.1 330.5,463.7 329.5,463.1 328.5,462.5 327.5,461.9 326.5,461.2 325.5,460.4 324.5,459.5 323.5,458.7 322.5,457.8 321.5,456.9 320.5,456.0 319.5,455.2 318.5,454.4 317.5,453.6 316.5,452.8 315.5,452.1 314.5,451.6 313.5,451.2 312.5,450.9 311.5,450.6 310.5,450.4 309.5,450.2 308.5,450.1 307.5,450.1 306.5,450.0 305.5,450.0 304.5,450.1 303.5,450.1 302.5,450.2 301.5,450.3 300.5,450.4 299.5,450.4 298.5,450.4 297.5,450.4 296.5,450.4 295.5,450.4 294.5,450.4 293.5,450.3 292.5,450.1 291.5,449.9 290.5,449.7 289.5,449.5 288.5,449.3 287.5,449.0 286.5,448.8 285.5,448.5 284.5,448.2 283.5,447.9 282.5,447.7 281.5,447.5 280.5,447.3 279.5,447.2 278.5,447.0 277.5,447.0 276.5,446.9 275.5,447.0 274.5,447.1 273.5,447.3 272.5,447.4 271.5,447.5 270.5,447.7 269.5,447.8 268.5,447.9 267.5,448.1 266.5,448.2 265.5,448.3 264.5,448.4 263.5,448.6 262.5,448.7 261.5,448.7 260.5,448.8 259.5,448.8 258.5,448.8 257.5,448.8 256.5,448.7 255.5,448.6 254.5,448.5 253.5,448.3 252.5,448.1 251.5,447.9 250.5,447.6 249.5,447.3 248.5,447.0 247.5,446.7 246.5,446.4 245.5,446.0 244.5,445.7 243.5,445.3 242.5,445.0 241.5,444.6 240.5,444.2 239.5,443.9 238.5,443.5 237.5,443.1 236.5,442.8 235.5,442.4 234.5,442.0 233.5,441.6 232.5,441.3 231.5,440.9 230.5,440.5 229.5,440.1 228.5,439.7 227.5,439.4 226.5,439.0 225.5,438.6 224.5,438.2 223.5,437.8 222.5,437.4 221.5,437.0 220.5,436.6 219.5,436.2 218.5,435.8 217.5,435.4 216.5,435.1 215.5,434.7 214.5,434.3 213.5,434.0 212.5,433.7 211.5,433.5 210.5,433.2 209.5,432.9 208.5,432.6 207.5,432.4 206.5,432.1 205.5,431.8 204.5,431.6 203.5,431.4 202.5,431.2 201.5,431.0 200.5,430.8 199.5,430.6 198.5,430.4 197.5,430.2 196.5,430.1" fill="#0072BD" fill-opacity="0.4"/>
<path d="M195.75,421.4h1.1L197.45,424.0V428.8L196.85,431.5h-1.1L195.15,428.8V424.0ZM198.38,420.6h1.1L200.08,423.7V429.1L199.48,432.2h-1.1L197.78,429.1V423.7ZM200.85,420.3h1.1L202.55,423.3V429.5L201.95,433.1h-1.1L200.25,429.5V423.3ZM203.42,419.5h1.1L205.12,423.0V429.8L204.52,434.0h-1.1L202.82,429.8V423.0ZM206.10,418.0h1.1L207.80,422.5V430.3L207.20,434.5h-1.1L205.50,430.3V422.5ZM208.87,417.6h1.1L210.57,422.0V430.8L209.97,435.7h-1.1L208.27,430.8V422.0ZM211.77,416.1h1.1L213.47,421.5V431.3L212.87,436.9h-1.1L211.17,431.3V421.5ZM214.57,415.5h1.1L216.27,420.9V431.9L215.67,438.2h-1.1L213.97,431.9V420.9ZM217.31,413.8h1.1L219.01,420.2V432.6L218.41,438.7h-1.1L216.71,432.6V420.2ZM220.21,411.9h1.1L221.91,419.5V433.3L221.31,441.3h-1.1L219.61,433.3V419.5ZM223.12,409.8h1.1L224.82,418.7V434.1L224.22,443.3h-1.1L222.52,434.1V418.7ZM225.76,408.2h1.1L227.46,418.0V434.8L226.86,443.9h-1.1L225.16,434.8V418.0ZM228.70,406.4h1.1L230.40,417.3V435.5L229.80,444.7h-1.1L228.10,435.5V417.3ZM231.20,406.5h1.1L232.90,416.6V436.2L232.30,448.0h-1.1L230.60,436.2V416.6ZM233.86,404.2h1.1L235.56,415.9V436.9L234.96,447.8h-1.1L233.26,436.9V415.9ZM236.57,403.4h1.1L238.27,415.3V437.5L237.67,449.3h-1.1L235.97,437.5V415.3ZM239.31,401.4h1.1L241.01,414.6V438.2L240.41,452.3h-1.1L238.71,438.2V414.6ZM242.11,398.9h1.1L243.81,413.9V438.9L243.21,453.7h-1.1L241.51,438.9V413.9ZM245.08,398.2h1.1L246.78,413.2V439.6L246.18,453.1h-1.1L244.48,439.6V413.2ZM247.97,395.9h1.1L249.67,412.6V440.2L249.07,456.7h-1.1L247.37,440.2V412.6ZM250.71,395.5h1.1L252.41,412.0V440.8L251.81,455.6h-1.1L250.11,440.8V412.0ZM253.59,395.2h1.1L255.29,411.6V441.2L254.69,456.6h-1.1L252.99,441.2V411.6ZM256.05,393.8h1.1L257.75,411.4V441.4L257.15,459.5h-1.1L255.45,441.4V411.4ZM258.53,393.8h1.1L260.23,411.4V441.4L259.63,457.6h-1.1L257.93,441.4V411.4ZM261.04,395.7h1.1L262.74,411.4V441.4L262.14,458.8h-1.1L260.44,441.4V411.4ZM263.94,397.0h1.1L265.64,411.6V441.2L265.04,457.8h-1.1L263.34,441.2V411.6ZM266.40,395.1h1.1L268.10,411.8V441.0L267.50,456.4h-1.1L265.80,441.0V411.8ZM269.30,394.7h1.1L271.00,412.1V440.7L270.40,456.5h-1.1L268.70,440.7V412.1ZM272.27,397.5h1.1L273.97,412.3V440.5L273.37,454.5h-1.1L271.67,440.5V412.3ZM275.03,398.9h1.1L276.73,412.6V440.2L276.13,454.4h-1.1L274.43,440.2V412.6ZM277.68,397.0h1.1L279.38,412.6V440.2L278.78,454.3h-1.1L277.08,440.2V412.6ZM280.13,395.8h1.1L281.83,412.4V440.4L281.23,455.2h-1.1L279.53,440.4V412.4ZM283.08,394.7h1.1L284.78,411.9V440.9L284.18,456.3h-1.1L282.48,440.9V411.9ZM285.76,394.9h1.1L287.46,411.4V441.4L286.86,458.3h-1.1L285.16,441.4V411.4ZM288.51,393.8h1.1L290.21,411.0V441.8L289.61,459.2h-1.1L287.91,441.8V411.0ZM291.45,393.2h1.1L293.15,410.6V442.2L292.55,459.3h-1.1L290.85,442.2V410.6ZM294.26,393.6h1.1L295.96,410.3V442.5L295.36,459.4h-1.1L293.66,442.5V410.3ZM297.22,392.5h1.1L298.92,410.3V442.5L298.32,460.4h-1.1L296.62,442.5V410.3ZM299.66,393.0h1.1L301.36,410.3V442.5L300.76,460.4h-1.1L299.06,442.5V410.3ZM302.10,392.5h1.1L303.80,410.4V442.4L303.20,460.4h-1.1L301.50,442.4V410.4ZM304.56,392.7h1.1L306.26,410.5V442.3L305.66,459.5h-1.1L303.96,442.3V410.5ZM307.36,393.6h1.1L309.06,410.5V442.3L308.46,460.5h-1.1L306.76,442.3V410.5ZM310.19,394.4h1.1L311.89,410.3V442.5L311.29,458.5h-1.1L309.59,442.5V410.3ZM312.98,389.7h1.1L314.68,409.7V443.1L314.08,460.4h-1.1L312.38,443.1V409.7ZM315.66,389.2h1.1L317.36,408.8V444.0L316.76,462.5h-1.1L315.06,444.0V408.8ZM318.29,387.5h1.1L319.99,407.5V445.3L319.39,465.5h-1.1L317.69,445.3V407.5ZM321.04,384.4h1.1L322.74,405.9V446.9L322.14,468.8h-1.1L320.44,446.9V405.9ZM323.88,382.3h1.1L325.58,404.2V448.6L324.98,473.3h-1.1L323.28,448.6V404.2ZM326.71,377.8h1.1L328.41,402.7V450.1L327.81,474.5h-1.1L326.11,450.1V402.7ZM329.57,375.7h1.1L331.27,401.5V451.3L330.67,476.8h-1.1L328.97,451.3V401.5ZM332.24,371.5h1.1L333.94,400.8V452.0L333.34,477.7h-1.1L331.64,452.0V400.8ZM334.84,373.0h1.1L336.54,400.5V452.3L335.94,482.8h-1.1L334.24,452.3V400.5ZM337.51,370.3h1.1L339.21,400.6V452.2L338.61,478.4h-1.1L336.91,452.2V400.6ZM340.12,373.1h1.1L341.82,401.4V451.4L341.22,481.0h-1.1L339.52,451.4V401.4ZM342.80,378.6h1.1L344.50,402.9V449.9L343.90,473.6h-1.1L342.20,449.9V402.9ZM345.51,382.4h1.1L347.21,404.7V448.1L346.61,473.5h-1.1L344.91,448.1V404.7ZM348.39,386.8h1.1L350.09,406.8V446.0L349.49,466.4h-1.1L347.79,446.0V406.8ZM351.26,388.3h1.1L352.96,408.5V444.3L352.36,465.2h-1.1L350.66,444.3V408.5ZM353.88,392.9h1.1L355.58,409.7V443.1L354.98,460.5h-1.1L353.28,443.1V409.7ZM356.74,393.7h1.1L358.44,410.4V442.4L357.84,459.4h-1.1L356.14,442.4V410.4ZM359.39,393.8h1.1L361.09,410.7V442.1L360.49,458.9h-1.1L358.79,442.1V410.7ZM362.32,394.3h1.1L364.02,410.5V442.3L363.42,457.9h-1.1L361.72,442.3V410.5ZM365.26,390.4h1.1L366.96,409.9V442.9L366.36,462.8h-1.1L364.66,442.9V409.9ZM367.92,388.1h1.1L369.62,409.0V443.8L369.02,464.6h-1.1L367.32,443.8V409.0ZM370.47,387.0h1.1L372.17,408.1V444.7L371.57,466.2h-1.1L369.87,444.7V408.1ZM373.26,386.1h1.1L374.96,407.2V445.6L374.36,465.7h-1.1L372.66,445.6V407.2ZM375.87,385.9h1.1L377.57,406.5V446.3L376.97,466.1h-1.1L375.27,446.3V406.5ZM378.62,384.5h1.1L380.32,405.9V446.9L379.72,470.8h-1.1L378.02,446.9V405.9ZM381.08,381.0h1.1L382.78,405.7V447.1L382.18,470.8h-1.1L380.48,447.1V405.7ZM384.01,380.5h1.1L385.71,405.4V447.4L385.11,472.3h-1.1L383.41,447.4V405.4ZM386.75,384.8h1.1L388.45,405.4V447.4L387.85,471.6h-1.1L386.15,447.4V405.4ZM389.27,383.7h1.1L390.97,405.5V447.3L390.37,470.9h-1.1L388.67,447.3V405.5ZM391.98,383.4h1.1L393.68,405.7V447.1L393.08,471.9h-1.1L391.38,447.1V405.7ZM394.74,384.2h1.1L396.44,405.9V446.9L395.84,468.2h-1.1L394.14,446.9V405.9ZM397.64,384.0h1.1L399.34,406.1V446.7L398.74,470.3h-1.1L397.04,446.7V406.1ZM400.26,385.3h1.1L401.96,406.1V446.7L401.36,469.1h-1.1L399.66,446.7V406.1ZM403.13,385.2h1.1L404.83,406.0V446.8L404.23,470.6h-1.1L402.53,446.8V406.0ZM406.06,382.2h1.1L407.76,406.0V446.8L407.16,470.7h-1.1L405.46,446.8V406.0ZM408.49,383.7h1.1L410.19,406.3V446.5L409.59,470.2h-1.1L407.89,446.5V406.3ZM410.95,386.3h1.1L412.65,406.8V446.0L412.05,466.5h-1.1L410.35,446.0V406.8ZM413.66,387.2h1.1L415.36,407.5V445.3L414.76,465.8h-1.1L413.06,445.3V407.5ZM416.51,390.8h1.1L418.21,408.4V444.4L417.61,462.3h-1.1L415.91,444.4V408.4ZM419.01,391.5h1.1L420.71,409.0V443.8L420.11,461.0h-1.1L418.41,443.8V409.0ZM421.97,390.1h1.1L423.67,409.8V443.0L423.07,459.7h-1.1L421.37,443.0V409.8ZM424.67,393.4h1.1L426.37,410.3V442.5L425.77,459.4h-1.1L424.07,442.5V410.3ZM427.29,392.8h1.1L428.99,410.6V442.2L428.39,459.7h-1.1L426.69,442.2V410.6ZM429.91,395.1h1.1L431.61,410.9V441.9L431.01,458.2h-1.1L429.31,441.9V410.9ZM432.41,394.0h1.1L434.11,411.0V441.8L433.51,459.4h-1.1L431.81,441.8V411.0ZM435.05,395.4h1.1L436.75,410.9V441.9L436.15,457.8h-1.1L434.45,441.9V410.9ZM437.68,393.0h1.1L439.38,410.7V442.1L438.78,460.4h-1.1L437.08,442.1V410.7ZM440.31,391.6h1.1L442.01,410.3V442.5L441.41,460.5h-1.1L439.71,442.5V410.3ZM442.98,392.3h1.1L444.68,409.9V442.9L444.08,460.9h-1.1L442.38,442.9V409.9ZM445.78,391.2h1.1L447.48,409.5V443.3L446.88,462.7h-1.1L445.18,443.3V409.5ZM448.46,391.2h1.1L450.16,409.1V443.7L449.56,462.8h-1.1L447.86,443.7V409.1ZM451.27,391.5h1.1L452.97,408.9V443.9L452.37,462.7h-1.1L450.67,443.9V408.9ZM453.93,388.0h1.1L455.63,408.8V444.0L455.03,465.0h-1.1L453.33,444.0V408.8ZM456.56,388.6h1.1L458.26,409.1V443.7L457.66,463.8h-1.1L455.96,443.7V409.1ZM459.13,391.3h1.1L460.83,409.6V443.2L460.23,460.1h-1.1L458.53,443.2V409.6ZM462.00,392.4h1.1L463.70,410.5V442.3L463.10,461.2h-1.1L461.40,442.3V410.5ZM464.86,394.3h1.1L466.56,411.4V441.4L465.96,458.7h-1.1L464.26,441.4V411.4ZM467.59,397.5h1.1L469.29,412.0V440.8L468.69,456.9h-1.1L466.99,440.8V412.0ZM470.03,398.1h1.1L471.73,412.3V440.5L471.13,456.8h-1.1L469.43,440.5V412.3ZM472.48,397.9h1.1L474.18,412.2V440.6L473.58,454.9h-1.1L471.88,440.6V412.2ZM475.39,396.7h1.1L477.09,411.7V441.1L476.49,455.6h-1.1L474.79,441.1V411.7ZM478.27,395.5h1.1L479.97,411.0V441.8L479.37,459.9h-1.1L477.67,441.8V411.0ZM481.06,391.4h1.1L482.76,410.3V442.5L482.16,461.8h-1.1L480.46,442.5V410.3ZM483.81,390.4h1.1L485.51,409.8V443.0L484.91,459.4h-1.1L483.21,443.0V409.8ZM486.65,390.5h1.1L488.35,409.3V443.5L487.75,463.1h-1.1L486.05,443.5V409.3ZM489.14,389.1h1.1L490.84,409.1V443.7L490.24,464.4h-1.1L488.54,443.7V409.1ZM491.60,390.7h1.1L493.30,409.0V443.8L492.70,463.1h-1.1L491.00,443.8V409.0ZM494.48,391.3h1.1L496.18,409.1V443.7L495.58,461.3h-1.1L493.88,443.7V409.1ZM497.04,390.1h1.1L498.74,409.3V443.5L498.14,463.2h-1.1L496.44,443.5V409.3ZM499.69,391.5h1.1L501.39,409.5V443.3L500.79,461.4h-1.1L499.09,443.3V409.5ZM502.31,391.5h1.1L504.01,409.6V443.2L503.41,460.0h-1.1L501.71,443.2V409.6ZM505.01,389.4h1.1L506.71,409.6V443.2L506.11,461.2h-1.1L504.41,443.2V409.6ZM507.84,392.0h1.1L509.54,409.4V443.4L508.94,462.9h-1.1L507.24,443.4V409.4ZM510.68,389.3h1.1L512.38,409.0V443.8L511.78,462.9h-1.1L510.08,443.8V409.0ZM513.37,388.7h1.1L515.07,408.7V444.1L514.47,465.1h-1.1L512.77,444.1V408.7ZM515.88,390.4h1.1L517.58,408.4V444.4L516.98,465.1h-1.1L515.28,444.4V408.4ZM518.81,388.8h1.1L520.51,408.5V444.3L519.91,463.7h-1.1L518.21,444.3V408.5ZM521.62,390.9h1.1L523.32,408.9V443.9L522.72,462.2h-1.1L521.02,443.9V408.9ZM524.16,390.6h1.1L525.86,409.5V443.3L525.26,461.2h-1.1L523.56,443.3V409.5ZM526.72,391.6h1.1L528.42,410.2V442.6L527.82,462.2h-1.1L526.12,442.6V410.2ZM529.31,393.0h1.1L531.01,410.8V442.0L530.41,458.7h-1.1L528.71,442.0V410.8ZM532.20,394.9h1.1L533.90,411.5V441.3L533.30,456.8h-1.1L531.60,441.3V411.5ZM534.74,397.5h1.1L536.44,411.8V441.0L535.84,456.9h-1.1L534.14,441.0V411.8ZM537.38,397.1h1.1L539.08,411.9V440.9L538.48,456.3h-1.1L536.78,440.9V411.9ZM539.99,394.2h1.1L541.69,411.5V441.3L541.09,456.4h-1.1L539.39,441.3V411.5ZM542.95,393.0h1.1L544.65,410.4V442.4L544.05,460.3h-1.1L542.35,442.4V410.4ZM545.63,388.4h1.1L547.33,408.9V443.9L546.73,464.4h-1.1L545.03,443.9V408.9ZM548.36,386.1h1.1L550.06,407.1V445.7L549.46,467.7h-1.1L547.76,445.7V407.1ZM551.26,382.5h1.1L552.96,405.2V447.6L552.36,471.9h-1.1L550.66,447.6V405.2ZM554.21,379.4h1.1L555.91,403.9V448.9L555.31,472.1h-1.1L553.61,448.9V403.9ZM556.76,376.3h1.1L558.46,403.1V449.7L557.86,476.3h-1.1L556.16,449.7V403.1ZM559.71,374.7h1.1L561.41,402.7V450.1L560.81,474.7h-1.1L559.11,450.1V402.7ZM562.24,378.2h1.1L563.94,402.8V450.0L563.34,474.2h-1.1L561.64,450.0V402.8ZM565.05,376.4h1.1L566.75,403.4V449.4L566.15,476.7h-1.1L564.45,449.4V403.4ZM567.62,378.8h1.1L569.32,404.6V448.2L568.72,471.2h-1.1L567.02,448.2V404.6ZM570.28,382.5h1.1L571.98,406.0V446.8L571.38,467.2h-1.1L569.68,446.8V406.0ZM572.76,385.3h1.1L574.46,407.5V445.3L573.86,465.1h-1.1L572.16,445.3V407.5ZM575.38,389.3h1.1L577.08,408.8V444.0L576.48,463.9h-1.1L574.78,444.0V408.8ZM577.82,392.3h1.1L579.52,409.8V443.0L578.92,460.9h-1.1L577.22,443.0V409.8ZM580.51,393.9h1.1L582.21,410.4V442.4L581.61,460.3h-1.1L579.91,442.4V410.4ZM583.45,393.2h1.1L585.15,410.4V442.4L584.55,460.1h-1.1L582.85,442.4V410.4ZM585.95,392.9h1.1L587.65,410.0V442.8L587.05,461.4h-1.1L585.35,442.8V410.0ZM588.44,389.7h1.1L590.14,409.6V443.2L589.54,463.2h-1.1L587.84,443.2V409.6ZM590.92,388.8h1.1L592.62,409.3V443.5L592.02,461.7h-1.1L590.32,443.5V409.3ZM593.77,389.0h1.1L595.47,409.1V443.7L594.87,461.9h-1.1L593.17,443.7V409.1ZM596.56,389.7h1.1L598.26,409.2V443.6L597.66,463.7h-1.1L595.96,443.6V409.2ZM599.14,390.1h1.1L600.84,409.5V443.3L600.24,463.5h-1.1L598.54,443.3V409.5ZM601.93,393.0h1.1L603.63,410.5V442.3L603.03,458.3h-1.1L601.33,442.3V410.5ZM604.63,395.9h1.1L606.33,411.6V441.2L605.73,458.2h-1.1L604.03,441.2V411.6ZM607.42,397.6h1.1L609.12,412.7V440.1L608.52,454.0h-1.1L606.82,440.1V412.7ZM610.20,399.7h1.1L611.90,413.8V439.0L611.30,451.8h-1.1L609.60,439.0V413.8ZM613.11,401.3h1.1L614.81,414.6V438.2L614.21,450.1h-1.1L612.51,438.2V414.6ZM616.05,403.8h1.1L617.75,415.1V437.7L617.15,449.5h-1.1L615.45,437.7V415.1ZM618.86,402.1h1.1L620.56,414.9V437.9L619.96,450.6h-1.1L618.26,437.9V414.9ZM621.64,401.6h1.1L623.34,414.5V438.3L622.74,450.8h-1.1L621.04,438.3V414.5ZM624.17,401.5h1.1L625.87,413.9V438.9L625.27,453.2h-1.1L623.57,438.9V413.9ZM627.01,398.7h1.1L628.71,413.2V439.6L628.11,454.7h-1.1L626.41,439.6V413.2ZM629.63,398.6h1.1L631.33,412.8V440.0L630.73,454.6h-1.1L629.03,440.0V412.8ZM632.53,398.5h1.1L634.23,412.4V440.4L633.63,455.8h-1.1L631.93,440.4V412.4ZM635.10,396.1h1.1L636.80,412.4V440.4L636.20,455.4h-1.1L634.50,440.4V412.4ZM637.71,398.0h1.1L639.41,412.7V440.1L638.81,455.2h-1.1L637.11,440.1V412.7ZM640.55,400.1h1.1L642.25,413.6V439.2L641.65,454.2h-1.1L639.95,439.2V413.6ZM643.04,402.7h1.1L644.74,414.8V438.0L644.14,449.6h-1.1L642.44,438.0V414.8ZM645.53,404.4h1.1L647.23,416.2V436.6L646.63,448.2h-1.1L644.93,436.6V416.2ZM648.06,409.1h1.1L649.76,417.8V435.0L649.16,444.2h-1.1L647.46,435.0V417.8ZM650.89,411.5h1.1L652.59,419.5V433.3L651.99,441.2h-1.1L650.29,433.3V419.5ZM653.64,415.6h1.1L655.34,421.0V431.8L654.74,437.5h-1.1L653.04,431.8V421.0ZM656.18,417.7h1.1L657.88,422.3V430.5L657.28,435.1h-1.1L655.58,430.5V422.3ZM658.72,420.3h1.1L660.42,423.4V429.4L659.82,432.9h-1.1L658.12,429.4V423.4ZM661.16,421.9h1.1L662.86,424.3V428.5L662.26,431.0h-1.1L660.56,428.5V424.3ZM664.11,423.9h1.1L665.81,425.2V427.6L665.21,429.0h-1.1L663.51,427.6V425.2ZM666.85,424.7h1.1L668.55,425.6V427.2L667.95,428.1h-1.1L666.25,427.2V425.6Z" fill="#0072BD" stroke="#0072BD" stroke-width="0.3"/>
<polygon points="196.0,424.0 197.0,423.9 198.0,423.8 199.0,423.6 200.0,423.5 201.0,423.4 202.0,423.3 203.0,423.1 204.0,423.0 205.0,422.8 206.0,422.7 207.0,422.5 208.0,422.3 209.0,422.1 210.0,421.9 211.0,421.7 212.0,421.6 213.0,421.4 214.0,421.2 215.0,421.0 216.0,420.7 217.0,420.5 218.0,420.2 219.0,419.9 220.0,419.7 221.0,419.4 222.0,419.1 223.0,418.9 224.0,418.6 225.0,418.3 226.0,418.1 227.0,417.8 228.0,417.6 229.0,417.3 230.0,417.1 231.0,416.8 232.0,416.6 233.0,416.3 234.0,416.0 235.0,415.8 236.0,415.5 237.0,415.3 238.0,415.0 239.0,414.8 240.0,414.5 241.0,414.3 242.0,414.0 243.0,413.8 244.0,413.6 245.0,413.3 246.0,413.1 247.0,412.9 248.0,412.7 249.0,412.5 250.0,412.2 251.0,412.0 252.0,411.9 253.0,411.7 254.0,411.6 255.0,411.5 256.0,411.5 257.0,411.4 258.0,411.4 259.0,411.4 260.0,411.4 261.0,411.4 262.0,411.4 263.0,411.5 264.0,411.6 265.0,411.6 266.0,411.7 267.0,411.8 268.0,411.9 269.0,412.0 270.0,412.1 271.0,412.2 272.0,412.3 273.0,412.3 274.0,412.4 275.0,412.5 276.0,412.6 277.0,412.6 278.0,412.6 279.0,412.5 280.0,412.4 281.0,412.3 282.0,412.2 283.0,412.0 284.0,411.8 285.0,411.7 286.0,411.5 287.0,411.3 288.0,411.1 289.0,411.0 290.0,410.8 291.0,410.7 292.0,410.6 293.0,410.4 294.0,410.3 295.0,410.3 296.0,410.3 297.0,410.3 298.0,410.3 299.0,410.3 300.0,410.3 301.0,410.3 302.0,410.4 303.0,410.4 304.0,410.5 305.0,410.5 306.0,410.5 307.0,410.5 308.0,410.5 309.0,410.5 310.0,410.4 311.0,410.2 312.0,410.1 313.0,409.9 314.0,409.6 315.0,409.3 316.0,408.9 317.0,408.4 318.0,407.9 319.0,407.4 320.0,406.8 321.0,406.2 322.0,405.6 323.0,405.0 324.0,404.4 325.0,403.9 326.0,403.3 327.0,402.8 328.0,402.4 329.0,402.0 330.0,401.5 331.0,401.2 332.0,400.9 333.0,400.7 334.0,400.6 335.0,400.5 336.0,400.5 337.0,400.5 338.0,400.6 339.0,400.8 340.0,401.1 341.0,401.6 342.0,402.1 343.0,402.7 344.0,403.3 345.0,403.9 346.0,404.6 347.0,405.4 348.0,406.1 349.0,406.8 350.0,407.5 351.0,408.1 352.0,408.6 353.0,409.1 354.0,409.6 355.0,409.9 356.0,410.2 357.0,410.3 358.0,410.5 359.0,410.6 360.0,410.7 361.0,410.7 362.0,410.6 363.0,410.4 364.0,410.3 365.0,410.1 366.0,409.9 367.0,409.5 368.0,409.2 369.0,408.8 370.0,408.5 371.0,408.1 372.0,407.8 373.0,407.5 374.0,407.2 375.0,406.9 376.0,406.6 377.0,406.3 378.0,406.1 379.0,405.9 380.0,405.8 381.0,405.7 382.0,405.6 383.0,405.6 384.0,405.5 385.0,405.4 386.0,405.4 387.0,405.4 388.0,405.4 389.0,405.5 390.0,405.5 391.0,405.6 392.0,405.7 393.0,405.7 394.0,405.8 395.0,405.9 396.0,406.0 397.0,406.0 398.0,406.1 399.0,406.1 400.0,406.1 401.0,406.1 402.0,406.0 403.0,406.0 404.0,406.0 405.0,405.9 406.0,405.9 407.0,406.0 408.0,406.1 409.0,406.3 410.0,406.4 411.0,406.6 412.0,406.9 413.0,407.2 414.0,407.5 415.0,407.8 416.0,408.1 417.0,408.4 418.0,408.6 419.0,408.9 420.0,409.1 421.0,409.4 422.0,409.6 423.0,409.9 424.0,410.1 425.0,410.3 426.0,410.4 427.0,410.5 428.0,410.7 429.0,410.8 430.0,410.9 431.0,411.0 432.0,411.1 433.0,411.0 434.0,411.0 435.0,410.9 436.0,410.8 437.0,410.8 438.0,410.7 439.0,410.6 440.0,410.5 441.0,410.3 442.0,410.2 443.0,410.0 444.0,409.8 445.0,409.7 446.0,409.5 447.0,409.4 448.0,409.2 449.0,409.1 450.0,409.0 451.0,409.0 452.0,408.9 453.0,408.8 454.0,408.8 455.0,408.9 456.0,409.0 457.0,409.1 458.0,409.3 459.0,409.4 460.0,409.7 461.0,410.0 462.0,410.3 463.0,410.6 464.0,410.9 465.0,411.2 466.0,411.5 467.0,411.7 468.0,411.9 469.0,412.1 470.0,412.3 471.0,412.3 472.0,412.3 473.0,412.2 474.0,412.0 475.0,411.9 476.0,411.7 477.0,411.5 478.0,411.2 479.0,411.0 480.0,410.7 481.0,410.5 482.0,410.2 483.0,410.0 484.0,409.8 485.0,409.7 486.0,409.5 487.0,409.3 488.0,409.2 489.0,409.1 490.0,409.1 491.0,409.0 492.0,409.0 493.0,409.0 494.0,409.1 495.0,409.1 496.0,409.2 497.0,409.3 498.0,409.4 499.0,409.4 500.0,409.5 501.0,409.5 502.0,409.6 503.0,409.6 504.0,409.6 505.0,409.6 506.0,409.6 507.0,409.5 508.0,409.4 509.0,409.3 510.0,409.2 511.0,409.1 512.0,408.9 513.0,408.8 514.0,408.7 515.0,408.6 516.0,408.5 517.0,408.4 518.0,408.4 519.0,408.5 520.0,408.6 521.0,408.7 522.0,408.8 523.0,409.0 524.0,409.3 525.0,409.5 526.0,409.8 527.0,410.1 528.0,410.4 529.0,410.6 530.0,410.9 531.0,411.1 532.0,411.3 533.0,411.5 534.0,411.7 535.0,411.8 536.0,411.9 537.0,411.9 538.0,411.9 539.0,411.8 540.0,411.6 541.0,411.4 542.0,411.1 543.0,410.7 544.0,410.2 545.0,409.6 546.0,409.0 547.0,408.4 548.0,407.8 549.0,407.1 550.0,406.4 551.0,405.7 552.0,405.1 553.0,404.6 554.0,404.2 555.0,403.8 556.0,403.4 557.0,403.1 558.0,402.9 559.0,402.8 560.0,402.7 561.0,402.7 562.0,402.7 563.0,402.8 564.0,403.0 565.0,403.2 566.0,403.6 567.0,404.0 568.0,404.5 569.0,405.0 570.0,405.5 571.0,406.1 572.0,406.7 573.0,407.3 574.0,407.9 575.0,408.4 576.0,408.9 577.0,409.3 578.0,409.7 579.0,410.0 580.0,410.2 581.0,410.4 582.0,410.5 583.0,410.5 584.0,410.4 585.0,410.2 586.0,410.1 587.0,409.9 588.0,409.7 589.0,409.6 590.0,409.5 591.0,409.4 592.0,409.2 593.0,409.1 594.0,409.1 595.0,409.1 596.0,409.1 597.0,409.2 598.0,409.3 599.0,409.4 600.0,409.6 601.0,409.9 602.0,410.3 603.0,410.7 604.0,411.1 605.0,411.5 606.0,411.9 607.0,412.3 608.0,412.8 609.0,413.2 610.0,413.6 611.0,413.9 612.0,414.2 613.0,414.5 614.0,414.7 615.0,414.9 616.0,415.1 617.0,415.2 618.0,415.1 619.0,415.0 620.0,414.9 621.0,414.7 622.0,414.5 623.0,414.3 624.0,414.1 625.0,413.9 626.0,413.6 627.0,413.4 628.0,413.1 629.0,413.0 630.0,412.8 631.0,412.7 632.0,412.5 633.0,412.4 634.0,412.3 635.0,412.3 636.0,412.4 637.0,412.5 638.0,412.7 639.0,412.9 640.0,413.2 641.0,413.6 642.0,414.0 643.0,414.5 644.0,415.0 645.0,415.6 646.0,416.2 647.0,416.8 648.0,417.5 649.0,418.1 650.0,418.7 651.0,419.3 652.0,419.8 653.0,420.4 654.0,420.9 655.0,421.4 656.0,421.9 657.0,422.4 658.0,422.9 659.0,423.3 660.0,423.7 661.0,424.1 662.0,424.4 663.0,424.7 664.0,425.0 665.0,425.2 666.0,425.4 667.0,425.6 668.0,425.7 669.0,425.8 670.0,425.9 671.0,426.0 672.0,426.1 673.0,426.1 674.0,426.2 675.0,426.2 676.0,426.2 677.0,426.2 678.0,426.2 679.0,426.2 680.0,426.2 681.0,426.2 682.0,426.2 683.0,426.2 684.0,426.2 685.0,426.2 686.0,426.2 687.0,426.2 688.0,426.2 689.0,426.2 690.0,426.2 691.0,426.2 692.0,426.2 693.0,426.2 694.0,426.2 695.0,426.2 696.0,426.2 697.0,426.2 698.0,426.2 699.0,426.2 700.0,426.2 701.0,426.2 702.0,426.2 703.0,426.2 704.0,426.2 705.0,426.2 706.0,426.2 707.0,426.2 708.0,426.2 709.0,426.2 710.0,426.2 711.0,426.2 712.0,426.2 713.0,426.2 714.0,426.2 715.0,426.2 716.0,426.2 717.0,426.2 718.0,426.2 719.0,426.2 720.0,426.2 721.0,426.2 722.0,426.2 723.0,426.2 724.0,426.2 725.0,426.2 726.0,426.2 727.0,426.2 728.0,426.2 729.0,426.2 730.0,426.2 731.0,426.2 732.0,426.2 733.0,426.2 734.0,426.2 735.0,426.2 736.0,426.2 737.0,426.2 738.0,426.2 739.0,426.2 740.0,426.2 741.0,426.2 742.0,426.2 743.0,426.2 744.0,426.2 745.0,426.2 746.0,426.2 747.0,426.2 748.0,426.2 749.0,426.2 750.0,426.2 751.0,426.2 752.0,426.2 753.0,426.2 754.0,426.2 755.0,426.2 756.0,426.2 757.0,426.2 758.0,426.2 759.0,426.2 760.0,426.2 761.0,426.2 762.0,426.2 763.0,426.2 764.0,426.2 765.0,426.2 766.0,426.2 767.0,426.2 768.0,426.2 769.0,426.2 770.0,426.2 771.0,426.2 772.0,426.2 773.0,426.2 774.0,426.2 775.0,426.2 776.0,426.2 777.0,426.2 778.0,426.2 779.0,426.2 780.0,426.2 780.5,426.6 779.5,426.6 778.5,426.6 777.5,426.6 776.5,426.6 775.5,426.6 774.5,426.6 773.5,426.6 772.5,426.6 771.5,426.6 770.5,426.6 769.5,426.6 768.5,426.6 767.5,426.6 766.5,426.6 765.5,426.6 764.5,426.6 763.5,426.6 762.5,426.6 761.5,426.6 760.5,426.6 759.5,426.6 758.5,426.6 757.5,426.6 756.5,426.6 755.5,426.6 754.5,426.6 753.5,426.6 752.5,426.6 751.5,426.6 750.5,426.6 749.5,426.6 748.5,426.6 747.5,426.6 746.5,426.6 745.5,426.6 744.5,426.6 743.5,426.6 742.5,426.6 741.5,426.6 740.5,426.6 739.5,426.6 738.5,426.6 737.5,426.6 736.5,426.6 735.5,426.6 734.5,426.6 733.5,426.6 732.5,426.6 731.5,426.6 730.5,426.6 729.5,426.6 728.5,426.6 727.5,426.6 726.5,426.6 725.5,426.6 724.5,426.6 723.5,426.6 722.5,426.6 721.5,426.6 720.5,426.6 719.5,426.6 718.5,426.6 717.5,426.6 716.5,426.6 715.5,426.6 714.5,426.6 713.5,426.6 712.5,426.6 711.5,426.6 710.5,426.6 709.5,426.6 708.5,426.6 707.5,426.6 706.5,426.6 705.5,426.6 704.5,426.6 703.5,426.6 702.5,426.6 701.5,426.6 700.5,426.6 699.5,426.6 698.5,426.6 697.5,426.6 696.5,426.6 695.5,426.6 694.5,426.6 693.5,426.6 692.5,426.6 691.5,426.6 690.5,426.6 689.5,426.6 688.5,426.6 687.5,426.6 686.5,426.6 685.5,426.6 684.5,426.6 683.5,426.6 682.5,426.6 681.5,426.6 680.5,426.6 679.5,426.6 678.5,426.6 677.5,426.6 676.5,426.6 675.5,426.6 674.5,426.6 673.5,426.6 672.5,426.7 671.5,426.8 670.5,426.8 669.5,426.9 668.5,427.0 667.5,427.2 666.5,427.3 665.5,427.5 664.5,427.7 663.5,427.9 662.5,428.2 661.5,428.6 660.5,428.9 659.5,429.3 658.5,429.7 657.5,430.2 656.5,430.6 655.5,431.1 654.5,431.6 653.5,432.1 652.5,432.7 651.5,433.3 650.5,433.8 649.5,434.4 648.5,435.0 647.5,435.7 646.5,436.3 645.5,436.9 644.5,437.5 643.5,438.0 642.5,438.5 641.5,439.0 640.5,439.4 639.5,439.8 638.5,440.0 637.5,440.2 636.5,440.3 635.5,440.5 634.5,440.5 633.5,440.5 632.5,440.3 631.5,440.2 630.5,440.1 629.5,439.9 628.5,439.8 627.5,439.6 626.5,439.3 625.5,439.1 624.5,438.8 623.5,438.6 622.5,438.4 621.5,438.2 620.5,438.0 619.5,437.9 618.5,437.7 617.5,437.6 616.5,437.7 615.5,437.8 614.5,438.0 613.5,438.2 612.5,438.5 611.5,438.7 610.5,439.0 609.5,439.4 608.5,439.8 607.5,440.2 606.5,440.7 605.5,441.1 604.5,441.5 603.5,441.9 602.5,442.3 601.5,442.7 600.5,443.0 599.5,443.3 598.5,443.5 597.5,443.6 596.5,443.6 595.5,443.7 594.5,443.7 593.5,443.7 592.5,443.6 591.5,443.5 590.5,443.4 589.5,443.3 588.5,443.1 587.5,443.0 586.5,442.8 585.5,442.6 584.5,442.5 583.5,442.4 582.5,442.3 581.5,442.4 580.5,442.5 579.5,442.7 578.5,443.0 577.5,443.3 576.5,443.7 575.5,444.1 574.5,444.6 573.5,445.2 572.5,445.8 571.5,446.4 570.5,447.0 569.5,447.6 568.5,448.1 567.5,448.5 566.5,449.0 565.5,449.4 564.5,449.7 563.5,449.9 562.5,450.0 561.5,450.1 560.5,450.1 559.5,450.1 558.5,450.0 557.5,449.8 556.5,449.5 555.5,449.2 554.5,448.8 553.5,448.4 552.5,448.0 551.5,447.4 550.5,446.7 549.5,446.1 548.5,445.4 547.5,444.7 546.5,444.1 545.5,443.5 544.5,442.9 543.5,442.4 542.5,441.9 541.5,441.6 540.5,441.3 539.5,441.1 538.5,441.0 537.5,440.9 536.5,440.9 535.5,441.0 534.5,441.1 533.5,441.2 532.5,441.4 531.5,441.6 530.5,441.8 529.5,442.1 528.5,442.3 527.5,442.6 526.5,442.8 525.5,443.1 524.5,443.4 523.5,443.7 522.5,443.9 521.5,444.0 520.5,444.2 519.5,444.3 518.5,444.4 517.5,444.4 516.5,444.4 515.5,444.3 514.5,444.2 513.5,444.0 512.5,443.9 511.5,443.8 510.5,443.7 509.5,443.6 508.5,443.5 507.5,443.3 506.5,443.2 505.5,443.2 504.5,443.2 503.5,443.2 502.5,443.2 501.5,443.3 500.5,443.3 499.5,443.4 498.5,443.4 497.5,443.5 496.5,443.6 495.5,443.6 494.5,443.7 493.5,443.8 492.5,443.8 491.5,443.8 490.5,443.7 489.5,443.7 488.5,443.6 487.5,443.5 486.5,443.4 485.5,443.2 484.5,443.0 483.5,442.9 482.5,442.7 481.5,442.5 480.5,442.2 479.5,442.0 478.5,441.7 477.5,441.5 476.5,441.2 475.5,441.0 474.5,440.8 473.5,440.7 472.5,440.6 471.5,440.5 470.5,440.5 469.5,440.6 468.5,440.8 467.5,441.0 466.5,441.2 465.5,441.4 464.5,441.7 463.5,442.0 462.5,442.3 461.5,442.7 460.5,443.0 459.5,443.2 458.5,443.5 457.5,443.6 456.5,443.8 455.5,443.9 454.5,444.0 453.5,444.0 452.5,443.9 451.5,443.9 450.5,443.8 449.5,443.7 448.5,443.6 447.5,443.5 446.5,443.4 445.5,443.2 444.5,443.0 443.5,442.9 442.5,442.7 441.5,442.6 440.5,442.4 439.5,442.3 438.5,442.2 437.5,442.1 436.5,442.0 435.5,441.9 434.5,441.9 433.5,441.8 432.5,441.7 431.5,441.8 430.5,441.9 429.5,442.0 428.5,442.1 427.5,442.2 426.5,442.3 425.5,442.4 424.5,442.6 423.5,442.8 422.5,443.1 421.5,443.3 420.5,443.5 419.5,443.8 418.5,444.0 417.5,444.3 416.5,444.6 415.5,444.9 414.5,445.2 413.5,445.5 412.5,445.8 411.5,446.0 410.5,446.3 409.5,446.4 408.5,446.6 407.5,446.7 406.5,446.8 405.5,446.9 404.5,446.9 403.5,446.8 402.5,446.8 401.5,446.7 400.5,446.7 399.5,446.7 398.5,446.7 397.5,446.7 396.5,446.8 395.5,446.9 394.5,447.0 393.5,447.0 392.5,447.1 391.5,447.2 390.5,447.2 389.5,447.3 388.5,447.3 387.5,447.4 386.5,447.4 385.5,447.4 384.5,447.4 383.5,447.3 382.5,447.2 381.5,447.1 380.5,447.0 379.5,446.9 378.5,446.8 377.5,446.6 376.5,446.3 375.5,446.1 374.5,445.8 373.5,445.5 372.5,445.2 371.5,444.9 370.5,444.5 369.5,444.2 368.5,443.8 367.5,443.4 366.5,443.1 365.5,442.8 364.5,442.6 363.5,442.4 362.5,442.3 361.5,442.1 360.5,442.1 359.5,442.1 358.5,442.2 357.5,442.4 356.5,442.5 355.5,442.7 354.5,443.0 353.5,443.4 352.5,443.9 351.5,444.5 350.5,445.0 349.5,445.6 348.5,446.3 347.5,447.1 346.5,447.8 345.5,448.5 344.5,449.2 343.5,449.8 342.5,450.4 341.5,451.0 340.5,451.5 339.5,451.9 338.5,452.1 337.5,452.2 336.5,452.3 335.5,452.3 334.5,452.3 333.5,452.1 332.5,452.0 331.5,451.7 330.5,451.4 329.5,451.1 328.5,450.6 327.5,450.2 326.5,449.7 325.5,449.2 324.5,448.6 323.5,448.1 322.5,447.5 321.5,446.9 320.5,446.3 319.5,445.7 318.5,445.2 317.5,444.6 316.5,444.1 315.5,443.7 314.5,443.3 313.5,443.1 312.5,442.8 311.5,442.6 310.5,442.5 309.5,442.4 308.5,442.3 307.5,442.3 306.5,442.3 305.5,442.3 304.5,442.3 303.5,442.3 302.5,442.4 301.5,442.4 300.5,442.5 299.5,442.5 298.5,442.5 297.5,442.5 296.5,442.5 295.5,442.5 294.5,442.5 293.5,442.4 292.5,442.3 291.5,442.2 290.5,442.0 289.5,441.9 288.5,441.8 287.5,441.6 286.5,441.4 285.5,441.2 284.5,441.0 283.5,440.9 282.5,440.7 281.5,440.5 280.5,440.4 279.5,440.3 278.5,440.3 277.5,440.2 276.5,440.2 275.5,440.2 274.5,440.3 273.5,440.4 272.5,440.5 271.5,440.6 270.5,440.7 269.5,440.8 268.5,440.9 267.5,441.0 266.5,441.0 265.5,441.1 264.5,441.2 263.5,441.3 262.5,441.4 261.5,441.4 260.5,441.4 259.5,441.4 258.5,441.4 257.5,441.4 256.5,441.4 255.5,441.3 254.5,441.2 253.5,441.1 252.5,441.0 251.5,440.9 250.5,440.7 249.5,440.5 248.5,440.2 247.5,440.0 246.5,439.8 245.5,439.6 244.5,439.4 243.5,439.1 242.5,438.9 241.5,438.6 240.5,438.4 239.5,438.1 238.5,437.9 237.5,437.6 236.5,437.4 235.5,437.1 234.5,436.9 233.5,436.6 232.5,436.4 231.5,436.1 230.5,435.9 229.5,435.6 228.5,435.4 227.5,435.1 226.5,434.8 225.5,434.6 224.5,434.3 223.5,434.1 222.5,433.8 221.5,433.5 220.5,433.3 219.5,433.0 218.5,432.7 217.5,432.5 216.5,432.2 215.5,432.0 214.5,431.7 213.5,431.5 212.5,431.3 211.5,431.1 210.5,431.0 209.5,430.8 208.5,430.6 207.5,430.4 206.5,430.2 205.5,430.1 204.5,429.9 203.5,429.8 202.5,429.6 201.5,429.5 200.5,429.4 199.5,429.2 198.5,429.1 197.5,429.0 196.5,428.9" fill="#0072BD"/>
<path d="M196.3,426.4H780.5" stroke="#0072BD" stroke-width="1.1" stroke-opacity="0.72" fill="none"/>
</svg></body></html>
